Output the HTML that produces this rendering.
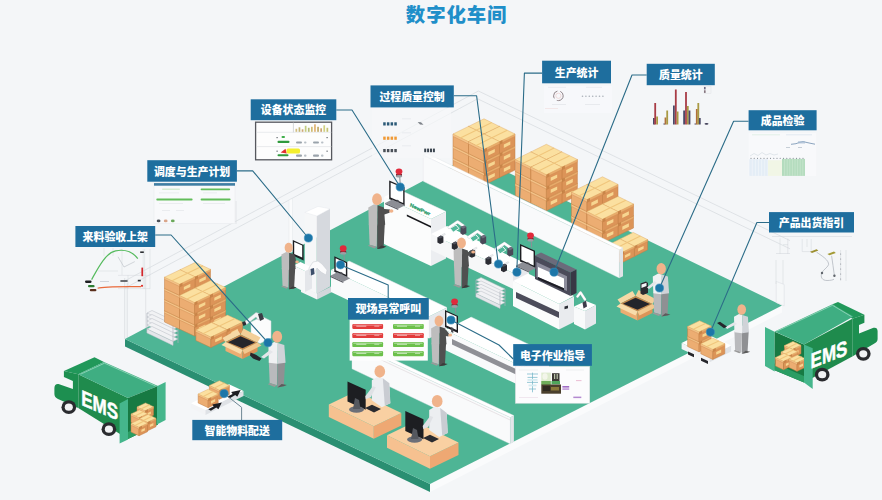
<!DOCTYPE html>
<html lang="zh-CN"><head><meta charset="utf-8"><title>数字化车间</title>
<style>
html,body{margin:0;padding:0;background:#f4f6f8;}
body{width:882px;height:500px;overflow:hidden;font-family:"Liberation Sans","Noto Sans CJK SC",sans-serif;}
svg{display:block}
svg text{font-family:"Liberation Sans","Noto Sans CJK SC",sans-serif;}
</style></head><body>
<svg width="882" height="500" viewBox="0 0 882 500">
<rect width="882" height="500" fill="#f4f6f8"/>
<polyline points="125.0,280.8 478.4,91.0 790.0,240.6" fill="none" stroke="#d6dade" stroke-width="0.7" />
<polyline points="125.0,288.1 477.6,98.8 790.0,248.8" fill="none" stroke="#d6dade" stroke-width="0.7" />
<polyline points="124.7,278.0 124.7,339.0" fill="none" stroke="#d6dade" stroke-width="0.7" />
<polyline points="127.2,283.0 127.2,338.0" fill="none" stroke="#d6dade" stroke-width="0.7" />
<polyline points="145.7,272.0 145.7,328.0" fill="none" stroke="#d6dade" stroke-width="0.6" />
<polyline points="236.0,201.0 236.0,224.0" fill="none" stroke="#d6dade" stroke-width="0.6" />
<polygon points="125.0,339.0 430.0,484.0 430.0,492.0 125.0,346.5" fill="#2a8f72" />
<polygon points="430.0,484.0 782.0,305.5 782.0,312.5 430.0,492.0" fill="#fafbfc" />
<polygon points="125.0,339.0 472.0,155.0 782.0,305.5 430.0,484.0" fill="#4eb595" />
<polygon points="776.2,281.4 784.2,284.5 784.2,306.0 776.2,302.5" fill="#f6f8f9" stroke="#dde1e5" stroke-width="0.6" />
<polygon points="468.5,150.4 484.0,158.0 484.0,170.0 468.5,162.4" fill="#ecad72" stroke="#c27f45" stroke-width="0.5" />
<polygon points="484.0,158.0 499.5,150.4 499.5,162.4 484.0,170.0" fill="#dc9458" stroke="#c27f45" stroke-width="0.5" />
<polygon points="468.5,150.4 484.0,158.0 484.0,160.4 468.5,152.8" fill="#f3c288" />
<polygon points="484.0,158.0 499.5,150.4 499.5,152.8 484.0,160.4" fill="#e8ab6b" />
<polyline points="468.5,152.8 484.0,160.4 499.5,152.8" fill="none" stroke="#cd8a50" stroke-width="0.45" />
<polygon points="468.5,150.4 484.0,142.8 499.5,150.4 484.0,158.0" fill="#fbe0a0" stroke="#e0a965" stroke-width="0.45" />
<polygon points="488.3,160.9 494.8,157.7 494.8,161.1 488.3,164.3" fill="#f7d590" />
<polyline points="476.2,154.2 491.8,146.6" fill="none" stroke="#f0c67c" stroke-width="1.1" />
<polygon points="484.0,158.0 487.0,156.5 487.0,159.7 484.0,161.2" fill="#c98549" />
<polygon points="468.5,138.4 484.0,146.0 484.0,158.0 468.5,150.4" fill="#ecad72" stroke="#c27f45" stroke-width="0.5" />
<polygon points="484.0,146.0 499.5,138.4 499.5,150.4 484.0,158.0" fill="#dc9458" stroke="#c27f45" stroke-width="0.5" />
<polygon points="468.5,138.4 484.0,146.0 484.0,148.4 468.5,140.8" fill="#f3c288" />
<polygon points="484.0,146.0 499.5,138.4 499.5,140.8 484.0,148.4" fill="#e8ab6b" />
<polyline points="468.5,140.8 484.0,148.4 499.5,140.8" fill="none" stroke="#cd8a50" stroke-width="0.45" />
<polygon points="468.5,138.4 484.0,130.8 499.5,138.4 484.0,146.0" fill="#fbe0a0" stroke="#e0a965" stroke-width="0.45" />
<polygon points="488.3,148.9 494.8,145.7 494.8,149.1 488.3,152.3" fill="#f7d590" />
<polyline points="476.2,142.2 491.8,134.6" fill="none" stroke="#f0c67c" stroke-width="1.1" />
<polygon points="484.0,146.0 487.0,144.5 487.0,147.7 484.0,149.2" fill="#c98549" />
<polygon points="468.5,126.4 484.0,134.0 484.0,146.0 468.5,138.4" fill="#ecad72" stroke="#c27f45" stroke-width="0.5" />
<polygon points="484.0,134.0 499.5,126.4 499.5,138.4 484.0,146.0" fill="#dc9458" stroke="#c27f45" stroke-width="0.5" />
<polygon points="468.5,126.4 484.0,134.0 484.0,136.4 468.5,128.8" fill="#f3c288" />
<polygon points="484.0,134.0 499.5,126.4 499.5,128.8 484.0,136.4" fill="#e8ab6b" />
<polyline points="468.5,128.8 484.0,136.4 499.5,128.8" fill="none" stroke="#cd8a50" stroke-width="0.45" />
<polygon points="468.5,126.4 484.0,118.8 499.5,126.4 484.0,134.0" fill="#fbe0a0" stroke="#e0a965" stroke-width="0.45" />
<polygon points="488.3,136.9 494.8,133.7 494.8,137.1 488.3,140.3" fill="#f7d590" />
<polyline points="476.2,130.2 491.8,122.6" fill="none" stroke="#f0c67c" stroke-width="1.1" />
<polygon points="484.0,134.0 487.0,132.5 487.0,135.7 484.0,137.2" fill="#c98549" />
<polygon points="453.0,158.0 468.5,165.6 468.5,177.6 453.0,170.0" fill="#ecad72" stroke="#c27f45" stroke-width="0.5" />
<polygon points="468.5,165.6 484.0,158.0 484.0,170.0 468.5,177.6" fill="#dc9458" stroke="#c27f45" stroke-width="0.5" />
<polygon points="453.0,158.0 468.5,165.6 468.5,168.0 453.0,160.4" fill="#f3c288" />
<polygon points="468.5,165.6 484.0,158.0 484.0,160.4 468.5,168.0" fill="#e8ab6b" />
<polyline points="453.0,160.4 468.5,168.0 484.0,160.4" fill="none" stroke="#cd8a50" stroke-width="0.45" />
<polygon points="453.0,158.0 468.5,150.4 484.0,158.0 468.5,165.6" fill="#fbe0a0" stroke="#e0a965" stroke-width="0.45" />
<polygon points="472.8,168.5 479.3,165.3 479.3,168.7 472.8,171.9" fill="#f7d590" />
<polyline points="460.8,161.8 476.2,154.2" fill="none" stroke="#f0c67c" stroke-width="1.1" />
<polygon points="468.5,165.6 471.5,164.1 471.5,167.3 468.5,168.8" fill="#c98549" />
<polygon points="453.0,146.0 468.5,153.6 468.5,165.6 453.0,158.0" fill="#ecad72" stroke="#c27f45" stroke-width="0.5" />
<polygon points="468.5,153.6 484.0,146.0 484.0,158.0 468.5,165.6" fill="#dc9458" stroke="#c27f45" stroke-width="0.5" />
<polygon points="453.0,146.0 468.5,153.6 468.5,156.0 453.0,148.4" fill="#f3c288" />
<polygon points="468.5,153.6 484.0,146.0 484.0,148.4 468.5,156.0" fill="#e8ab6b" />
<polyline points="453.0,148.4 468.5,156.0 484.0,148.4" fill="none" stroke="#cd8a50" stroke-width="0.45" />
<polygon points="453.0,146.0 468.5,138.4 484.0,146.0 468.5,153.6" fill="#fbe0a0" stroke="#e0a965" stroke-width="0.45" />
<polygon points="472.8,156.5 479.3,153.3 479.3,156.7 472.8,159.9" fill="#f7d590" />
<polyline points="460.8,149.8 476.2,142.2" fill="none" stroke="#f0c67c" stroke-width="1.1" />
<polygon points="468.5,153.6 471.5,152.1 471.5,155.3 468.5,156.8" fill="#c98549" />
<polygon points="453.0,134.0 468.5,141.6 468.5,153.6 453.0,146.0" fill="#ecad72" stroke="#c27f45" stroke-width="0.5" />
<polygon points="468.5,141.6 484.0,134.0 484.0,146.0 468.5,153.6" fill="#dc9458" stroke="#c27f45" stroke-width="0.5" />
<polygon points="453.0,134.0 468.5,141.6 468.5,144.0 453.0,136.4" fill="#f3c288" />
<polygon points="468.5,141.6 484.0,134.0 484.0,136.4 468.5,144.0" fill="#e8ab6b" />
<polyline points="453.0,136.4 468.5,144.0 484.0,136.4" fill="none" stroke="#cd8a50" stroke-width="0.45" />
<polygon points="453.0,134.0 468.5,126.4 484.0,134.0 468.5,141.6" fill="#fbe0a0" stroke="#e0a965" stroke-width="0.45" />
<polygon points="472.8,144.5 479.3,141.3 479.3,144.7 472.8,147.9" fill="#f7d590" />
<polyline points="460.8,137.8 476.2,130.2" fill="none" stroke="#f0c67c" stroke-width="1.1" />
<polygon points="468.5,141.6 471.5,140.1 471.5,143.3 468.5,144.8" fill="#c98549" />
<polygon points="484.0,158.0 499.5,165.6 499.5,177.6 484.0,170.0" fill="#ecad72" stroke="#c27f45" stroke-width="0.5" />
<polygon points="499.5,165.6 515.0,158.0 515.0,170.0 499.5,177.6" fill="#dc9458" stroke="#c27f45" stroke-width="0.5" />
<polygon points="484.0,158.0 499.5,165.6 499.5,168.0 484.0,160.4" fill="#f3c288" />
<polygon points="499.5,165.6 515.0,158.0 515.0,160.4 499.5,168.0" fill="#e8ab6b" />
<polyline points="484.0,160.4 499.5,168.0 515.0,160.4" fill="none" stroke="#cd8a50" stroke-width="0.45" />
<polygon points="484.0,158.0 499.5,150.4 515.0,158.0 499.5,165.6" fill="#fbe0a0" stroke="#e0a965" stroke-width="0.45" />
<polygon points="503.8,168.5 510.3,165.3 510.3,168.7 503.8,171.9" fill="#f7d590" />
<polyline points="491.8,161.8 507.2,154.2" fill="none" stroke="#f0c67c" stroke-width="1.1" />
<polygon points="499.5,165.6 502.5,164.1 502.5,167.3 499.5,168.8" fill="#c98549" />
<polygon points="484.0,146.0 499.5,153.6 499.5,165.6 484.0,158.0" fill="#ecad72" stroke="#c27f45" stroke-width="0.5" />
<polygon points="499.5,153.6 515.0,146.0 515.0,158.0 499.5,165.6" fill="#dc9458" stroke="#c27f45" stroke-width="0.5" />
<polygon points="484.0,146.0 499.5,153.6 499.5,156.0 484.0,148.4" fill="#f3c288" />
<polygon points="499.5,153.6 515.0,146.0 515.0,148.4 499.5,156.0" fill="#e8ab6b" />
<polyline points="484.0,148.4 499.5,156.0 515.0,148.4" fill="none" stroke="#cd8a50" stroke-width="0.45" />
<polygon points="484.0,146.0 499.5,138.4 515.0,146.0 499.5,153.6" fill="#fbe0a0" stroke="#e0a965" stroke-width="0.45" />
<polygon points="503.8,156.5 510.3,153.3 510.3,156.7 503.8,159.9" fill="#f7d590" />
<polyline points="491.8,149.8 507.2,142.2" fill="none" stroke="#f0c67c" stroke-width="1.1" />
<polygon points="499.5,153.6 502.5,152.1 502.5,155.3 499.5,156.8" fill="#c98549" />
<polygon points="484.0,134.0 499.5,141.6 499.5,153.6 484.0,146.0" fill="#ecad72" stroke="#c27f45" stroke-width="0.5" />
<polygon points="499.5,141.6 515.0,134.0 515.0,146.0 499.5,153.6" fill="#dc9458" stroke="#c27f45" stroke-width="0.5" />
<polygon points="484.0,134.0 499.5,141.6 499.5,144.0 484.0,136.4" fill="#f3c288" />
<polygon points="499.5,141.6 515.0,134.0 515.0,136.4 499.5,144.0" fill="#e8ab6b" />
<polyline points="484.0,136.4 499.5,144.0 515.0,136.4" fill="none" stroke="#cd8a50" stroke-width="0.45" />
<polygon points="484.0,134.0 499.5,126.4 515.0,134.0 499.5,141.6" fill="#fbe0a0" stroke="#e0a965" stroke-width="0.45" />
<polygon points="503.8,144.5 510.3,141.3 510.3,144.7 503.8,147.9" fill="#f7d590" />
<polyline points="491.8,137.8 507.2,130.2" fill="none" stroke="#f0c67c" stroke-width="1.1" />
<polygon points="499.5,141.6 502.5,140.1 502.5,143.3 499.5,144.8" fill="#c98549" />
<polygon points="468.5,165.6 484.0,173.2 484.0,185.2 468.5,177.6" fill="#ecad72" stroke="#c27f45" stroke-width="0.5" />
<polygon points="484.0,173.2 499.5,165.6 499.5,177.6 484.0,185.2" fill="#dc9458" stroke="#c27f45" stroke-width="0.5" />
<polygon points="468.5,165.6 484.0,173.2 484.0,175.6 468.5,168.0" fill="#f3c288" />
<polygon points="484.0,173.2 499.5,165.6 499.5,168.0 484.0,175.6" fill="#e8ab6b" />
<polyline points="468.5,168.0 484.0,175.6 499.5,168.0" fill="none" stroke="#cd8a50" stroke-width="0.45" />
<polygon points="468.5,165.6 484.0,158.0 499.5,165.6 484.0,173.2" fill="#fbe0a0" stroke="#e0a965" stroke-width="0.45" />
<polygon points="488.3,176.1 494.8,172.9 494.8,176.3 488.3,179.5" fill="#f7d590" />
<polyline points="476.2,169.4 491.8,161.8" fill="none" stroke="#f0c67c" stroke-width="1.1" />
<polygon points="484.0,173.2 487.0,171.7 487.0,174.9 484.0,176.4" fill="#c98549" />
<polygon points="468.5,153.6 484.0,161.2 484.0,173.2 468.5,165.6" fill="#ecad72" stroke="#c27f45" stroke-width="0.5" />
<polygon points="484.0,161.2 499.5,153.6 499.5,165.6 484.0,173.2" fill="#dc9458" stroke="#c27f45" stroke-width="0.5" />
<polygon points="468.5,153.6 484.0,161.2 484.0,163.6 468.5,156.0" fill="#f3c288" />
<polygon points="484.0,161.2 499.5,153.6 499.5,156.0 484.0,163.6" fill="#e8ab6b" />
<polyline points="468.5,156.0 484.0,163.6 499.5,156.0" fill="none" stroke="#cd8a50" stroke-width="0.45" />
<polygon points="468.5,153.6 484.0,146.0 499.5,153.6 484.0,161.2" fill="#fbe0a0" stroke="#e0a965" stroke-width="0.45" />
<polygon points="488.3,164.1 494.8,160.9 494.8,164.3 488.3,167.5" fill="#f7d590" />
<polyline points="476.2,157.4 491.8,149.8" fill="none" stroke="#f0c67c" stroke-width="1.1" />
<polygon points="484.0,161.2 487.0,159.7 487.0,162.9 484.0,164.4" fill="#c98549" />
<polygon points="468.5,141.6 484.0,149.2 484.0,161.2 468.5,153.6" fill="#ecad72" stroke="#c27f45" stroke-width="0.5" />
<polygon points="484.0,149.2 499.5,141.6 499.5,153.6 484.0,161.2" fill="#dc9458" stroke="#c27f45" stroke-width="0.5" />
<polygon points="468.5,141.6 484.0,149.2 484.0,151.6 468.5,144.0" fill="#f3c288" />
<polygon points="484.0,149.2 499.5,141.6 499.5,144.0 484.0,151.6" fill="#e8ab6b" />
<polyline points="468.5,144.0 484.0,151.6 499.5,144.0" fill="none" stroke="#cd8a50" stroke-width="0.45" />
<polygon points="468.5,141.6 484.0,134.0 499.5,141.6 484.0,149.2" fill="#fbe0a0" stroke="#e0a965" stroke-width="0.45" />
<polygon points="488.3,152.1 494.8,148.9 494.8,152.3 488.3,155.5" fill="#f7d590" />
<polyline points="476.2,145.4 491.8,137.8" fill="none" stroke="#f0c67c" stroke-width="1.1" />
<polygon points="484.0,149.2 487.0,147.7 487.0,150.9 484.0,152.4" fill="#c98549" />
<polygon points="530.9,175.9 546.4,183.5 546.4,195.5 530.9,187.9" fill="#ecad72" stroke="#c27f45" stroke-width="0.5" />
<polygon points="546.4,183.5 561.9,175.9 561.9,187.9 546.4,195.5" fill="#dc9458" stroke="#c27f45" stroke-width="0.5" />
<polygon points="530.9,175.9 546.4,183.5 546.4,185.9 530.9,178.3" fill="#f3c288" />
<polygon points="546.4,183.5 561.9,175.9 561.9,178.3 546.4,185.9" fill="#e8ab6b" />
<polyline points="530.9,178.3 546.4,185.9 561.9,178.3" fill="none" stroke="#cd8a50" stroke-width="0.45" />
<polygon points="530.9,175.9 546.4,168.3 561.9,175.9 546.4,183.5" fill="#fbe0a0" stroke="#e0a965" stroke-width="0.45" />
<polygon points="550.7,186.4 557.2,183.2 557.2,186.6 550.7,189.8" fill="#f7d590" />
<polyline points="538.6,179.7 554.1,172.1" fill="none" stroke="#f0c67c" stroke-width="1.1" />
<polygon points="546.4,183.5 549.4,182.0 549.4,185.2 546.4,186.7" fill="#c98549" />
<polygon points="530.9,163.9 546.4,171.5 546.4,183.5 530.9,175.9" fill="#ecad72" stroke="#c27f45" stroke-width="0.5" />
<polygon points="546.4,171.5 561.9,163.9 561.9,175.9 546.4,183.5" fill="#dc9458" stroke="#c27f45" stroke-width="0.5" />
<polygon points="530.9,163.9 546.4,171.5 546.4,173.9 530.9,166.3" fill="#f3c288" />
<polygon points="546.4,171.5 561.9,163.9 561.9,166.3 546.4,173.9" fill="#e8ab6b" />
<polyline points="530.9,166.3 546.4,173.9 561.9,166.3" fill="none" stroke="#cd8a50" stroke-width="0.45" />
<polygon points="530.9,163.9 546.4,156.3 561.9,163.9 546.4,171.5" fill="#fbe0a0" stroke="#e0a965" stroke-width="0.45" />
<polygon points="550.7,174.4 557.2,171.2 557.2,174.6 550.7,177.8" fill="#f7d590" />
<polyline points="538.6,167.7 554.1,160.1" fill="none" stroke="#f0c67c" stroke-width="1.1" />
<polygon points="546.4,171.5 549.4,170.0 549.4,173.2 546.4,174.7" fill="#c98549" />
<polygon points="530.9,151.9 546.4,159.5 546.4,171.5 530.9,163.9" fill="#ecad72" stroke="#c27f45" stroke-width="0.5" />
<polygon points="546.4,159.5 561.9,151.9 561.9,163.9 546.4,171.5" fill="#dc9458" stroke="#c27f45" stroke-width="0.5" />
<polygon points="530.9,151.9 546.4,159.5 546.4,161.9 530.9,154.3" fill="#f3c288" />
<polygon points="546.4,159.5 561.9,151.9 561.9,154.3 546.4,161.9" fill="#e8ab6b" />
<polyline points="530.9,154.3 546.4,161.9 561.9,154.3" fill="none" stroke="#cd8a50" stroke-width="0.45" />
<polygon points="530.9,151.9 546.4,144.3 561.9,151.9 546.4,159.5" fill="#fbe0a0" stroke="#e0a965" stroke-width="0.45" />
<polygon points="550.7,162.4 557.2,159.2 557.2,162.6 550.7,165.8" fill="#f7d590" />
<polyline points="538.6,155.7 554.1,148.1" fill="none" stroke="#f0c67c" stroke-width="1.1" />
<polygon points="546.4,159.5 549.4,158.0 549.4,161.2 546.4,162.7" fill="#c98549" />
<polygon points="515.4,183.5 530.9,191.1 530.9,203.1 515.4,195.5" fill="#ecad72" stroke="#c27f45" stroke-width="0.5" />
<polygon points="530.9,191.1 546.4,183.5 546.4,195.5 530.9,203.1" fill="#dc9458" stroke="#c27f45" stroke-width="0.5" />
<polygon points="515.4,183.5 530.9,191.1 530.9,193.5 515.4,185.9" fill="#f3c288" />
<polygon points="530.9,191.1 546.4,183.5 546.4,185.9 530.9,193.5" fill="#e8ab6b" />
<polyline points="515.4,185.9 530.9,193.5 546.4,185.9" fill="none" stroke="#cd8a50" stroke-width="0.45" />
<polygon points="515.4,183.5 530.9,175.9 546.4,183.5 530.9,191.1" fill="#fbe0a0" stroke="#e0a965" stroke-width="0.45" />
<polygon points="535.2,194.0 541.8,190.8 541.8,194.2 535.2,197.4" fill="#f7d590" />
<polyline points="523.1,187.3 538.6,179.7" fill="none" stroke="#f0c67c" stroke-width="1.1" />
<polygon points="530.9,191.1 533.9,189.6 533.9,192.8 530.9,194.3" fill="#c98549" />
<polygon points="515.4,171.5 530.9,179.1 530.9,191.1 515.4,183.5" fill="#ecad72" stroke="#c27f45" stroke-width="0.5" />
<polygon points="530.9,179.1 546.4,171.5 546.4,183.5 530.9,191.1" fill="#dc9458" stroke="#c27f45" stroke-width="0.5" />
<polygon points="515.4,171.5 530.9,179.1 530.9,181.5 515.4,173.9" fill="#f3c288" />
<polygon points="530.9,179.1 546.4,171.5 546.4,173.9 530.9,181.5" fill="#e8ab6b" />
<polyline points="515.4,173.9 530.9,181.5 546.4,173.9" fill="none" stroke="#cd8a50" stroke-width="0.45" />
<polygon points="515.4,171.5 530.9,163.9 546.4,171.5 530.9,179.1" fill="#fbe0a0" stroke="#e0a965" stroke-width="0.45" />
<polygon points="535.2,182.0 541.8,178.8 541.8,182.2 535.2,185.4" fill="#f7d590" />
<polyline points="523.1,175.3 538.6,167.7" fill="none" stroke="#f0c67c" stroke-width="1.1" />
<polygon points="530.9,179.1 533.9,177.6 533.9,180.8 530.9,182.3" fill="#c98549" />
<polygon points="515.4,159.5 530.9,167.1 530.9,179.1 515.4,171.5" fill="#ecad72" stroke="#c27f45" stroke-width="0.5" />
<polygon points="530.9,167.1 546.4,159.5 546.4,171.5 530.9,179.1" fill="#dc9458" stroke="#c27f45" stroke-width="0.5" />
<polygon points="515.4,159.5 530.9,167.1 530.9,169.5 515.4,161.9" fill="#f3c288" />
<polygon points="530.9,167.1 546.4,159.5 546.4,161.9 530.9,169.5" fill="#e8ab6b" />
<polyline points="515.4,161.9 530.9,169.5 546.4,161.9" fill="none" stroke="#cd8a50" stroke-width="0.45" />
<polygon points="515.4,159.5 530.9,151.9 546.4,159.5 530.9,167.1" fill="#fbe0a0" stroke="#e0a965" stroke-width="0.45" />
<polygon points="535.2,170.0 541.8,166.8 541.8,170.2 535.2,173.4" fill="#f7d590" />
<polyline points="523.1,163.3 538.6,155.7" fill="none" stroke="#f0c67c" stroke-width="1.1" />
<polygon points="530.9,167.1 533.9,165.6 533.9,168.8 530.9,170.3" fill="#c98549" />
<polygon points="546.4,183.5 561.9,191.1 561.9,203.1 546.4,195.5" fill="#ecad72" stroke="#c27f45" stroke-width="0.5" />
<polygon points="561.9,191.1 577.4,183.5 577.4,195.5 561.9,203.1" fill="#dc9458" stroke="#c27f45" stroke-width="0.5" />
<polygon points="546.4,183.5 561.9,191.1 561.9,193.5 546.4,185.9" fill="#f3c288" />
<polygon points="561.9,191.1 577.4,183.5 577.4,185.9 561.9,193.5" fill="#e8ab6b" />
<polyline points="546.4,185.9 561.9,193.5 577.4,185.9" fill="none" stroke="#cd8a50" stroke-width="0.45" />
<polygon points="546.4,183.5 561.9,175.9 577.4,183.5 561.9,191.1" fill="#fbe0a0" stroke="#e0a965" stroke-width="0.45" />
<polygon points="566.2,194.0 572.8,190.8 572.8,194.2 566.2,197.4" fill="#f7d590" />
<polyline points="554.1,187.3 569.6,179.7" fill="none" stroke="#f0c67c" stroke-width="1.1" />
<polygon points="561.9,191.1 564.9,189.6 564.9,192.8 561.9,194.3" fill="#c98549" />
<polygon points="546.4,171.5 561.9,179.1 561.9,191.1 546.4,183.5" fill="#ecad72" stroke="#c27f45" stroke-width="0.5" />
<polygon points="561.9,179.1 577.4,171.5 577.4,183.5 561.9,191.1" fill="#dc9458" stroke="#c27f45" stroke-width="0.5" />
<polygon points="546.4,171.5 561.9,179.1 561.9,181.5 546.4,173.9" fill="#f3c288" />
<polygon points="561.9,179.1 577.4,171.5 577.4,173.9 561.9,181.5" fill="#e8ab6b" />
<polyline points="546.4,173.9 561.9,181.5 577.4,173.9" fill="none" stroke="#cd8a50" stroke-width="0.45" />
<polygon points="546.4,171.5 561.9,163.9 577.4,171.5 561.9,179.1" fill="#fbe0a0" stroke="#e0a965" stroke-width="0.45" />
<polygon points="566.2,182.0 572.8,178.8 572.8,182.2 566.2,185.4" fill="#f7d590" />
<polyline points="554.1,175.3 569.6,167.7" fill="none" stroke="#f0c67c" stroke-width="1.1" />
<polygon points="561.9,179.1 564.9,177.6 564.9,180.8 561.9,182.3" fill="#c98549" />
<polygon points="546.4,159.5 561.9,167.1 561.9,179.1 546.4,171.5" fill="#ecad72" stroke="#c27f45" stroke-width="0.5" />
<polygon points="561.9,167.1 577.4,159.5 577.4,171.5 561.9,179.1" fill="#dc9458" stroke="#c27f45" stroke-width="0.5" />
<polygon points="546.4,159.5 561.9,167.1 561.9,169.5 546.4,161.9" fill="#f3c288" />
<polygon points="561.9,167.1 577.4,159.5 577.4,161.9 561.9,169.5" fill="#e8ab6b" />
<polyline points="546.4,161.9 561.9,169.5 577.4,161.9" fill="none" stroke="#cd8a50" stroke-width="0.45" />
<polygon points="546.4,159.5 561.9,151.9 577.4,159.5 561.9,167.1" fill="#fbe0a0" stroke="#e0a965" stroke-width="0.45" />
<polygon points="566.2,170.0 572.8,166.8 572.8,170.2 566.2,173.4" fill="#f7d590" />
<polyline points="554.1,163.3 569.6,155.7" fill="none" stroke="#f0c67c" stroke-width="1.1" />
<polygon points="561.9,167.1 564.9,165.6 564.9,168.8 561.9,170.3" fill="#c98549" />
<polygon points="530.9,191.1 546.4,198.7 546.4,210.7 530.9,203.1" fill="#ecad72" stroke="#c27f45" stroke-width="0.5" />
<polygon points="546.4,198.7 561.9,191.1 561.9,203.1 546.4,210.7" fill="#dc9458" stroke="#c27f45" stroke-width="0.5" />
<polygon points="530.9,191.1 546.4,198.7 546.4,201.1 530.9,193.5" fill="#f3c288" />
<polygon points="546.4,198.7 561.9,191.1 561.9,193.5 546.4,201.1" fill="#e8ab6b" />
<polyline points="530.9,193.5 546.4,201.1 561.9,193.5" fill="none" stroke="#cd8a50" stroke-width="0.45" />
<polygon points="530.9,191.1 546.4,183.5 561.9,191.1 546.4,198.7" fill="#fbe0a0" stroke="#e0a965" stroke-width="0.45" />
<polygon points="550.7,201.6 557.2,198.4 557.2,201.8 550.7,205.0" fill="#f7d590" />
<polyline points="538.6,194.9 554.1,187.3" fill="none" stroke="#f0c67c" stroke-width="1.1" />
<polygon points="546.4,198.7 549.4,197.2 549.4,200.4 546.4,201.9" fill="#c98549" />
<polygon points="530.9,179.1 546.4,186.7 546.4,198.7 530.9,191.1" fill="#ecad72" stroke="#c27f45" stroke-width="0.5" />
<polygon points="546.4,186.7 561.9,179.1 561.9,191.1 546.4,198.7" fill="#dc9458" stroke="#c27f45" stroke-width="0.5" />
<polygon points="530.9,179.1 546.4,186.7 546.4,189.1 530.9,181.5" fill="#f3c288" />
<polygon points="546.4,186.7 561.9,179.1 561.9,181.5 546.4,189.1" fill="#e8ab6b" />
<polyline points="530.9,181.5 546.4,189.1 561.9,181.5" fill="none" stroke="#cd8a50" stroke-width="0.45" />
<polygon points="530.9,179.1 546.4,171.5 561.9,179.1 546.4,186.7" fill="#fbe0a0" stroke="#e0a965" stroke-width="0.45" />
<polygon points="550.7,189.6 557.2,186.4 557.2,189.8 550.7,193.0" fill="#f7d590" />
<polyline points="538.6,182.9 554.1,175.3" fill="none" stroke="#f0c67c" stroke-width="1.1" />
<polygon points="546.4,186.7 549.4,185.2 549.4,188.4 546.4,189.9" fill="#c98549" />
<polygon points="530.9,167.1 546.4,174.7 546.4,186.7 530.9,179.1" fill="#ecad72" stroke="#c27f45" stroke-width="0.5" />
<polygon points="546.4,174.7 561.9,167.1 561.9,179.1 546.4,186.7" fill="#dc9458" stroke="#c27f45" stroke-width="0.5" />
<polygon points="530.9,167.1 546.4,174.7 546.4,177.1 530.9,169.5" fill="#f3c288" />
<polygon points="546.4,174.7 561.9,167.1 561.9,169.5 546.4,177.1" fill="#e8ab6b" />
<polyline points="530.9,169.5 546.4,177.1 561.9,169.5" fill="none" stroke="#cd8a50" stroke-width="0.45" />
<polygon points="530.9,167.1 546.4,159.5 561.9,167.1 546.4,174.7" fill="#fbe0a0" stroke="#e0a965" stroke-width="0.45" />
<polygon points="550.7,177.6 557.2,174.4 557.2,177.8 550.7,181.0" fill="#f7d590" />
<polyline points="538.6,170.9 554.1,163.3" fill="none" stroke="#f0c67c" stroke-width="1.1" />
<polygon points="546.4,174.7 549.4,173.2 549.4,176.4 546.4,177.9" fill="#c98549" />
<polygon points="587.0,208.4 602.5,216.0 602.5,228.0 587.0,220.4" fill="#ecad72" stroke="#c27f45" stroke-width="0.5" />
<polygon points="602.5,216.0 618.0,208.4 618.0,220.4 602.5,228.0" fill="#dc9458" stroke="#c27f45" stroke-width="0.5" />
<polygon points="587.0,208.4 602.5,216.0 602.5,218.4 587.0,210.8" fill="#f3c288" />
<polygon points="602.5,216.0 618.0,208.4 618.0,210.8 602.5,218.4" fill="#e8ab6b" />
<polyline points="587.0,210.8 602.5,218.4 618.0,210.8" fill="none" stroke="#cd8a50" stroke-width="0.45" />
<polygon points="587.0,208.4 602.5,200.8 618.0,208.4 602.5,216.0" fill="#fbe0a0" stroke="#e0a965" stroke-width="0.45" />
<polygon points="606.8,218.9 613.4,215.7 613.4,219.1 606.8,222.3" fill="#f7d590" />
<polyline points="594.8,212.2 610.2,204.6" fill="none" stroke="#f0c67c" stroke-width="1.1" />
<polygon points="602.5,216.0 605.5,214.5 605.5,217.7 602.5,219.2" fill="#c98549" />
<polygon points="587.0,196.4 602.5,204.0 602.5,216.0 587.0,208.4" fill="#ecad72" stroke="#c27f45" stroke-width="0.5" />
<polygon points="602.5,204.0 618.0,196.4 618.0,208.4 602.5,216.0" fill="#dc9458" stroke="#c27f45" stroke-width="0.5" />
<polygon points="587.0,196.4 602.5,204.0 602.5,206.4 587.0,198.8" fill="#f3c288" />
<polygon points="602.5,204.0 618.0,196.4 618.0,198.8 602.5,206.4" fill="#e8ab6b" />
<polyline points="587.0,198.8 602.5,206.4 618.0,198.8" fill="none" stroke="#cd8a50" stroke-width="0.45" />
<polygon points="587.0,196.4 602.5,188.8 618.0,196.4 602.5,204.0" fill="#fbe0a0" stroke="#e0a965" stroke-width="0.45" />
<polygon points="606.8,206.9 613.4,203.7 613.4,207.1 606.8,210.3" fill="#f7d590" />
<polyline points="594.8,200.2 610.2,192.6" fill="none" stroke="#f0c67c" stroke-width="1.1" />
<polygon points="602.5,204.0 605.5,202.5 605.5,205.7 602.5,207.2" fill="#c98549" />
<polygon points="587.0,184.4 602.5,192.0 602.5,204.0 587.0,196.4" fill="#ecad72" stroke="#c27f45" stroke-width="0.5" />
<polygon points="602.5,192.0 618.0,184.4 618.0,196.4 602.5,204.0" fill="#dc9458" stroke="#c27f45" stroke-width="0.5" />
<polygon points="587.0,184.4 602.5,192.0 602.5,194.4 587.0,186.8" fill="#f3c288" />
<polygon points="602.5,192.0 618.0,184.4 618.0,186.8 602.5,194.4" fill="#e8ab6b" />
<polyline points="587.0,186.8 602.5,194.4 618.0,186.8" fill="none" stroke="#cd8a50" stroke-width="0.45" />
<polygon points="587.0,184.4 602.5,176.8 618.0,184.4 602.5,192.0" fill="#fbe0a0" stroke="#e0a965" stroke-width="0.45" />
<polygon points="606.8,194.9 613.4,191.7 613.4,195.1 606.8,198.3" fill="#f7d590" />
<polyline points="594.8,188.2 610.2,180.6" fill="none" stroke="#f0c67c" stroke-width="1.1" />
<polygon points="602.5,192.0 605.5,190.5 605.5,193.7 602.5,195.2" fill="#c98549" />
<polygon points="571.5,216.0 587.0,223.6 587.0,235.6 571.5,228.0" fill="#ecad72" stroke="#c27f45" stroke-width="0.5" />
<polygon points="587.0,223.6 602.5,216.0 602.5,228.0 587.0,235.6" fill="#dc9458" stroke="#c27f45" stroke-width="0.5" />
<polygon points="571.5,216.0 587.0,223.6 587.0,226.0 571.5,218.4" fill="#f3c288" />
<polygon points="587.0,223.6 602.5,216.0 602.5,218.4 587.0,226.0" fill="#e8ab6b" />
<polyline points="571.5,218.4 587.0,226.0 602.5,218.4" fill="none" stroke="#cd8a50" stroke-width="0.45" />
<polygon points="571.5,216.0 587.0,208.4 602.5,216.0 587.0,223.6" fill="#fbe0a0" stroke="#e0a965" stroke-width="0.45" />
<polygon points="591.3,226.5 597.9,223.3 597.9,226.7 591.3,229.9" fill="#f7d590" />
<polyline points="579.2,219.8 594.8,212.2" fill="none" stroke="#f0c67c" stroke-width="1.1" />
<polygon points="587.0,223.6 590.0,222.1 590.0,225.3 587.0,226.8" fill="#c98549" />
<polygon points="571.5,204.0 587.0,211.6 587.0,223.6 571.5,216.0" fill="#ecad72" stroke="#c27f45" stroke-width="0.5" />
<polygon points="587.0,211.6 602.5,204.0 602.5,216.0 587.0,223.6" fill="#dc9458" stroke="#c27f45" stroke-width="0.5" />
<polygon points="571.5,204.0 587.0,211.6 587.0,214.0 571.5,206.4" fill="#f3c288" />
<polygon points="587.0,211.6 602.5,204.0 602.5,206.4 587.0,214.0" fill="#e8ab6b" />
<polyline points="571.5,206.4 587.0,214.0 602.5,206.4" fill="none" stroke="#cd8a50" stroke-width="0.45" />
<polygon points="571.5,204.0 587.0,196.4 602.5,204.0 587.0,211.6" fill="#fbe0a0" stroke="#e0a965" stroke-width="0.45" />
<polygon points="591.3,214.5 597.9,211.3 597.9,214.7 591.3,217.9" fill="#f7d590" />
<polyline points="579.2,207.8 594.8,200.2" fill="none" stroke="#f0c67c" stroke-width="1.1" />
<polygon points="587.0,211.6 590.0,210.1 590.0,213.3 587.0,214.8" fill="#c98549" />
<polygon points="571.5,192.0 587.0,199.6 587.0,211.6 571.5,204.0" fill="#ecad72" stroke="#c27f45" stroke-width="0.5" />
<polygon points="587.0,199.6 602.5,192.0 602.5,204.0 587.0,211.6" fill="#dc9458" stroke="#c27f45" stroke-width="0.5" />
<polygon points="571.5,192.0 587.0,199.6 587.0,202.0 571.5,194.4" fill="#f3c288" />
<polygon points="587.0,199.6 602.5,192.0 602.5,194.4 587.0,202.0" fill="#e8ab6b" />
<polyline points="571.5,194.4 587.0,202.0 602.5,194.4" fill="none" stroke="#cd8a50" stroke-width="0.45" />
<polygon points="571.5,192.0 587.0,184.4 602.5,192.0 587.0,199.6" fill="#fbe0a0" stroke="#e0a965" stroke-width="0.45" />
<polygon points="591.3,202.5 597.9,199.3 597.9,202.7 591.3,205.9" fill="#f7d590" />
<polyline points="579.2,195.8 594.8,188.2" fill="none" stroke="#f0c67c" stroke-width="1.1" />
<polygon points="587.0,199.6 590.0,198.1 590.0,201.3 587.0,202.8" fill="#c98549" />
<polygon points="602.5,216.0 618.0,223.6 618.0,235.6 602.5,228.0" fill="#ecad72" stroke="#c27f45" stroke-width="0.5" />
<polygon points="618.0,223.6 633.5,216.0 633.5,228.0 618.0,235.6" fill="#dc9458" stroke="#c27f45" stroke-width="0.5" />
<polygon points="602.5,216.0 618.0,223.6 618.0,226.0 602.5,218.4" fill="#f3c288" />
<polygon points="618.0,223.6 633.5,216.0 633.5,218.4 618.0,226.0" fill="#e8ab6b" />
<polyline points="602.5,218.4 618.0,226.0 633.5,218.4" fill="none" stroke="#cd8a50" stroke-width="0.45" />
<polygon points="602.5,216.0 618.0,208.4 633.5,216.0 618.0,223.6" fill="#fbe0a0" stroke="#e0a965" stroke-width="0.45" />
<polygon points="622.3,226.5 628.9,223.3 628.9,226.7 622.3,229.9" fill="#f7d590" />
<polyline points="610.2,219.8 625.8,212.2" fill="none" stroke="#f0c67c" stroke-width="1.1" />
<polygon points="618.0,223.6 621.0,222.1 621.0,225.3 618.0,226.8" fill="#c98549" />
<polygon points="602.5,204.0 618.0,211.6 618.0,223.6 602.5,216.0" fill="#ecad72" stroke="#c27f45" stroke-width="0.5" />
<polygon points="618.0,211.6 633.5,204.0 633.5,216.0 618.0,223.6" fill="#dc9458" stroke="#c27f45" stroke-width="0.5" />
<polygon points="602.5,204.0 618.0,211.6 618.0,214.0 602.5,206.4" fill="#f3c288" />
<polygon points="618.0,211.6 633.5,204.0 633.5,206.4 618.0,214.0" fill="#e8ab6b" />
<polyline points="602.5,206.4 618.0,214.0 633.5,206.4" fill="none" stroke="#cd8a50" stroke-width="0.45" />
<polygon points="602.5,204.0 618.0,196.4 633.5,204.0 618.0,211.6" fill="#fbe0a0" stroke="#e0a965" stroke-width="0.45" />
<polygon points="622.3,214.5 628.9,211.3 628.9,214.7 622.3,217.9" fill="#f7d590" />
<polyline points="610.2,207.8 625.8,200.2" fill="none" stroke="#f0c67c" stroke-width="1.1" />
<polygon points="618.0,211.6 621.0,210.1 621.0,213.3 618.0,214.8" fill="#c98549" />
<polygon points="587.0,223.6 602.5,231.2 602.5,243.2 587.0,235.6" fill="#ecad72" stroke="#c27f45" stroke-width="0.5" />
<polygon points="602.5,231.2 618.0,223.6 618.0,235.6 602.5,243.2" fill="#dc9458" stroke="#c27f45" stroke-width="0.5" />
<polygon points="587.0,223.6 602.5,231.2 602.5,233.6 587.0,226.0" fill="#f3c288" />
<polygon points="602.5,231.2 618.0,223.6 618.0,226.0 602.5,233.6" fill="#e8ab6b" />
<polyline points="587.0,226.0 602.5,233.6 618.0,226.0" fill="none" stroke="#cd8a50" stroke-width="0.45" />
<polygon points="587.0,223.6 602.5,216.0 618.0,223.6 602.5,231.2" fill="#fbe0a0" stroke="#e0a965" stroke-width="0.45" />
<polygon points="606.8,234.1 613.4,230.9 613.4,234.3 606.8,237.5" fill="#f7d590" />
<polyline points="594.8,227.4 610.2,219.8" fill="none" stroke="#f0c67c" stroke-width="1.1" />
<polygon points="602.5,231.2 605.5,229.7 605.5,232.9 602.5,234.4" fill="#c98549" />
<polygon points="587.0,211.6 602.5,219.2 602.5,231.2 587.0,223.6" fill="#ecad72" stroke="#c27f45" stroke-width="0.5" />
<polygon points="602.5,219.2 618.0,211.6 618.0,223.6 602.5,231.2" fill="#dc9458" stroke="#c27f45" stroke-width="0.5" />
<polygon points="587.0,211.6 602.5,219.2 602.5,221.6 587.0,214.0" fill="#f3c288" />
<polygon points="602.5,219.2 618.0,211.6 618.0,214.0 602.5,221.6" fill="#e8ab6b" />
<polyline points="587.0,214.0 602.5,221.6 618.0,214.0" fill="none" stroke="#cd8a50" stroke-width="0.45" />
<polygon points="587.0,211.6 602.5,204.0 618.0,211.6 602.5,219.2" fill="#fbe0a0" stroke="#e0a965" stroke-width="0.45" />
<polygon points="606.8,222.1 613.4,218.9 613.4,222.3 606.8,225.5" fill="#f7d590" />
<polyline points="594.8,215.4 610.2,207.8" fill="none" stroke="#f0c67c" stroke-width="1.1" />
<polygon points="602.5,219.2 605.5,217.7 605.5,220.9 602.5,222.4" fill="#c98549" />
<polygon points="620.0,239.0 634.4,246.2 634.4,256.4 620.0,249.2" fill="#ecad72" stroke="#c27f45" stroke-width="0.5" />
<polygon points="634.4,246.2 647.6,239.6 647.6,249.8 634.4,256.4" fill="#dc9458" stroke="#c27f45" stroke-width="0.5" />
<polygon points="620.0,239.0 634.4,246.2 634.4,248.2 620.0,241.0" fill="#f3c288" />
<polygon points="634.4,246.2 647.6,239.6 647.6,241.6 634.4,248.2" fill="#e8ab6b" />
<polyline points="620.0,241.0 634.4,248.2 647.6,241.6" fill="none" stroke="#cd8a50" stroke-width="0.45" />
<polygon points="620.0,239.0 633.2,232.4 647.6,239.6 634.4,246.2" fill="#fbe0a0" stroke="#e0a965" stroke-width="0.45" />
<polygon points="638.1,248.6 643.6,245.9 643.6,248.7 638.1,251.5" fill="#f7d590" />
<polyline points="627.2,242.6 640.4,236.0" fill="none" stroke="#f0c67c" stroke-width="1.1" />
<polygon points="634.4,246.2 637.4,244.7 637.4,247.5 634.4,249.0" fill="#c98549" />
<polygon points="606.8,245.6 621.2,252.8 621.2,263.0 606.8,255.8" fill="#ecad72" stroke="#c27f45" stroke-width="0.5" />
<polygon points="621.2,252.8 634.4,246.2 634.4,256.4 621.2,263.0" fill="#dc9458" stroke="#c27f45" stroke-width="0.5" />
<polygon points="606.8,245.6 621.2,252.8 621.2,254.8 606.8,247.6" fill="#f3c288" />
<polygon points="621.2,252.8 634.4,246.2 634.4,248.2 621.2,254.8" fill="#e8ab6b" />
<polyline points="606.8,247.6 621.2,254.8 634.4,248.2" fill="none" stroke="#cd8a50" stroke-width="0.45" />
<polygon points="606.8,245.6 620.0,239.0 634.4,246.2 621.2,252.8" fill="#fbe0a0" stroke="#e0a965" stroke-width="0.45" />
<polygon points="624.9,255.2 630.4,252.5 630.4,255.3 624.9,258.1" fill="#f7d590" />
<polyline points="614.0,249.2 627.2,242.6" fill="none" stroke="#f0c67c" stroke-width="1.1" />
<polygon points="621.2,252.8 624.2,251.3 624.2,254.1 621.2,255.6" fill="#c98549" />
<polygon points="423.3,155.2 427.0,153.4 623.0,248.0 619.4,249.8" fill="#ffffff" stroke="#dfe2e6" stroke-width="0.4" />
<polygon points="423.3,155.2 619.4,249.8 619.4,278.0 423.3,181.3" fill="#f9fafb" stroke="#e3e6ea" stroke-width="0.4" />
<polygon points="619.4,249.8 623.0,248.0 623.0,276.2 619.4,278.0" fill="#e0e3e7" />
<polygon points="147.0,313.0 152.0,310.5 178.0,322.9 173.0,325.4" fill="#f1f2f4" stroke="#b9bdc4" stroke-width="0.5" />
<polygon points="147.0,317.0 152.0,314.5 178.0,326.9 173.0,329.4" fill="#f1f2f4" stroke="#b9bdc4" stroke-width="0.5" />
<polygon points="147.0,321.0 152.0,318.5 178.0,330.9 173.0,333.4" fill="#f1f2f4" stroke="#b9bdc4" stroke-width="0.5" />
<polygon points="147.0,325.0 152.0,322.5 178.0,334.9 173.0,337.4" fill="#f1f2f4" stroke="#b9bdc4" stroke-width="0.5" />
<polygon points="147.0,329.0 152.0,326.5 178.0,338.9 173.0,341.4" fill="#f1f2f4" stroke="#b9bdc4" stroke-width="0.5" />
<polyline points="147.0,313.0 147.0,333.0" fill="none" stroke="#aeb3ba" stroke-width="0.7" />
<polyline points="173.0,325.4 173.0,345.4" fill="none" stroke="#aeb3ba" stroke-width="0.7" />
<polyline points="178.0,322.9 178.0,342.9" fill="none" stroke="#aeb3ba" stroke-width="0.7" />
<polygon points="147.0,329.0 173.0,341.4 173.0,345.4 147.0,333.0" fill="#e4e6ea" stroke="#b9bdc4" stroke-width="0.4" />
<polygon points="180.0,303.4 195.0,310.4 195.0,321.6 180.0,314.6" fill="#ecad72" stroke="#c27f45" stroke-width="0.5" />
<polygon points="195.0,310.4 210.5,303.0 210.5,314.2 195.0,321.6" fill="#dc9458" stroke="#c27f45" stroke-width="0.5" />
<polygon points="180.0,303.4 195.0,310.4 195.0,312.7 180.0,305.6" fill="#f3c288" />
<polygon points="195.0,310.4 210.5,303.0 210.5,305.2 195.0,312.7" fill="#e8ab6b" />
<polyline points="180.0,305.6 195.0,312.7 210.5,305.2" fill="none" stroke="#cd8a50" stroke-width="0.45" />
<polygon points="180.0,303.4 195.5,295.9 210.5,303.0 195.0,310.4" fill="#fbe0a0" stroke="#e0a965" stroke-width="0.45" />
<polygon points="199.3,313.0 205.8,309.9 205.8,313.0 199.3,316.2" fill="#f7d590" />
<polyline points="187.5,306.9 203.0,299.4" fill="none" stroke="#f0c67c" stroke-width="1.1" />
<polygon points="195.0,310.4 198.0,309.0 198.0,312.0 195.0,313.5" fill="#c98549" />
<polygon points="180.0,292.2 195.0,299.2 195.0,310.4 180.0,303.4" fill="#ecad72" stroke="#c27f45" stroke-width="0.5" />
<polygon points="195.0,299.2 210.5,291.8 210.5,303.0 195.0,310.4" fill="#dc9458" stroke="#c27f45" stroke-width="0.5" />
<polygon points="180.0,292.2 195.0,299.2 195.0,301.5 180.0,294.4" fill="#f3c288" />
<polygon points="195.0,299.2 210.5,291.8 210.5,294.0 195.0,301.5" fill="#e8ab6b" />
<polyline points="180.0,294.4 195.0,301.5 210.5,294.0" fill="none" stroke="#cd8a50" stroke-width="0.45" />
<polygon points="180.0,292.2 195.5,284.7 210.5,291.8 195.0,299.2" fill="#fbe0a0" stroke="#e0a965" stroke-width="0.45" />
<polygon points="199.3,301.8 205.8,298.7 205.8,301.8 199.3,305.0" fill="#f7d590" />
<polyline points="187.5,295.7 203.0,288.2" fill="none" stroke="#f0c67c" stroke-width="1.1" />
<polygon points="195.0,299.2 198.0,297.8 198.0,300.8 195.0,302.3" fill="#c98549" />
<polygon points="180.0,281.0 195.0,288.0 195.0,299.2 180.0,292.2" fill="#ecad72" stroke="#c27f45" stroke-width="0.5" />
<polygon points="195.0,288.0 210.5,280.6 210.5,291.8 195.0,299.2" fill="#dc9458" stroke="#c27f45" stroke-width="0.5" />
<polygon points="180.0,281.0 195.0,288.0 195.0,290.3 180.0,283.2" fill="#f3c288" />
<polygon points="195.0,288.0 210.5,280.6 210.5,282.8 195.0,290.3" fill="#e8ab6b" />
<polyline points="180.0,283.2 195.0,290.3 210.5,282.8" fill="none" stroke="#cd8a50" stroke-width="0.45" />
<polygon points="180.0,281.0 195.5,273.5 210.5,280.6 195.0,288.0" fill="#fbe0a0" stroke="#e0a965" stroke-width="0.45" />
<polygon points="199.3,290.6 205.8,287.5 205.8,290.6 199.3,293.8" fill="#f7d590" />
<polyline points="187.5,284.5 203.0,277.0" fill="none" stroke="#f0c67c" stroke-width="1.1" />
<polygon points="195.0,288.0 198.0,286.6 198.0,289.6 195.0,291.1" fill="#c98549" />
<polygon points="180.0,269.8 195.0,276.8 195.0,288.0 180.0,281.0" fill="#ecad72" stroke="#c27f45" stroke-width="0.5" />
<polygon points="195.0,276.8 210.5,269.4 210.5,280.6 195.0,288.0" fill="#dc9458" stroke="#c27f45" stroke-width="0.5" />
<polygon points="180.0,269.8 195.0,276.8 195.0,279.1 180.0,272.0" fill="#f3c288" />
<polygon points="195.0,276.8 210.5,269.4 210.5,271.6 195.0,279.1" fill="#e8ab6b" />
<polyline points="180.0,272.0 195.0,279.1 210.5,271.6" fill="none" stroke="#cd8a50" stroke-width="0.45" />
<polygon points="180.0,269.8 195.5,262.3 210.5,269.4 195.0,276.8" fill="#fbe0a0" stroke="#e0a965" stroke-width="0.45" />
<polygon points="199.3,279.4 205.8,276.3 205.8,279.4 199.3,282.6" fill="#f7d590" />
<polyline points="187.5,273.3 203.0,265.8" fill="none" stroke="#f0c67c" stroke-width="1.1" />
<polygon points="195.0,276.8 198.0,275.4 198.0,278.4 195.0,279.9" fill="#c98549" />
<polygon points="164.5,310.8 179.5,317.9 179.5,329.1 164.5,322.0" fill="#ecad72" stroke="#c27f45" stroke-width="0.5" />
<polygon points="179.5,317.9 195.0,310.4 195.0,321.6 179.5,329.1" fill="#dc9458" stroke="#c27f45" stroke-width="0.5" />
<polygon points="164.5,310.8 179.5,317.9 179.5,320.1 164.5,313.0" fill="#f3c288" />
<polygon points="179.5,317.9 195.0,310.4 195.0,312.7 179.5,320.1" fill="#e8ab6b" />
<polyline points="164.5,313.0 179.5,320.1 195.0,312.7" fill="none" stroke="#cd8a50" stroke-width="0.45" />
<polygon points="164.5,310.8 180.0,303.4 195.0,310.4 179.5,317.9" fill="#fbe0a0" stroke="#e0a965" stroke-width="0.45" />
<polygon points="183.8,320.5 190.3,317.3 190.3,320.5 183.8,323.6" fill="#f7d590" />
<polyline points="172.0,314.3 187.5,306.9" fill="none" stroke="#f0c67c" stroke-width="1.1" />
<polygon points="179.5,317.9 182.5,316.4 182.5,319.5 179.5,320.9" fill="#c98549" />
<polygon points="164.5,299.6 179.5,306.7 179.5,317.9 164.5,310.8" fill="#ecad72" stroke="#c27f45" stroke-width="0.5" />
<polygon points="179.5,306.7 195.0,299.2 195.0,310.4 179.5,317.9" fill="#dc9458" stroke="#c27f45" stroke-width="0.5" />
<polygon points="164.5,299.6 179.5,306.7 179.5,308.9 164.5,301.8" fill="#f3c288" />
<polygon points="179.5,306.7 195.0,299.2 195.0,301.5 179.5,308.9" fill="#e8ab6b" />
<polyline points="164.5,301.8 179.5,308.9 195.0,301.5" fill="none" stroke="#cd8a50" stroke-width="0.45" />
<polygon points="164.5,299.6 180.0,292.2 195.0,299.2 179.5,306.7" fill="#fbe0a0" stroke="#e0a965" stroke-width="0.45" />
<polygon points="183.8,309.3 190.3,306.1 190.3,309.3 183.8,312.4" fill="#f7d590" />
<polyline points="172.0,303.1 187.5,295.7" fill="none" stroke="#f0c67c" stroke-width="1.1" />
<polygon points="179.5,306.7 182.5,305.2 182.5,308.3 179.5,309.7" fill="#c98549" />
<polygon points="164.5,288.4 179.5,295.4 179.5,306.6 164.5,299.6" fill="#ecad72" stroke="#c27f45" stroke-width="0.5" />
<polygon points="179.5,295.4 195.0,288.0 195.0,299.2 179.5,306.6" fill="#dc9458" stroke="#c27f45" stroke-width="0.5" />
<polygon points="164.5,288.4 179.5,295.4 179.5,297.7 164.5,290.6" fill="#f3c288" />
<polygon points="179.5,295.4 195.0,288.0 195.0,290.2 179.5,297.7" fill="#e8ab6b" />
<polyline points="164.5,290.6 179.5,297.7 195.0,290.2" fill="none" stroke="#cd8a50" stroke-width="0.45" />
<polygon points="164.5,288.4 180.0,281.0 195.0,288.0 179.5,295.4" fill="#fbe0a0" stroke="#e0a965" stroke-width="0.45" />
<polygon points="183.8,298.1 190.3,294.9 190.3,298.1 183.8,301.2" fill="#f7d590" />
<polyline points="172.0,291.9 187.5,284.5" fill="none" stroke="#f0c67c" stroke-width="1.1" />
<polygon points="179.5,295.4 182.5,294.0 182.5,297.1 179.5,298.5" fill="#c98549" />
<polygon points="164.5,277.2 179.5,284.2 179.5,295.4 164.5,288.4" fill="#ecad72" stroke="#c27f45" stroke-width="0.5" />
<polygon points="179.5,284.2 195.0,276.8 195.0,288.0 179.5,295.4" fill="#dc9458" stroke="#c27f45" stroke-width="0.5" />
<polygon points="164.5,277.2 179.5,284.2 179.5,286.5 164.5,279.4" fill="#f3c288" />
<polygon points="179.5,284.2 195.0,276.8 195.0,279.1 179.5,286.5" fill="#e8ab6b" />
<polyline points="164.5,279.4 179.5,286.5 195.0,279.1" fill="none" stroke="#cd8a50" stroke-width="0.45" />
<polygon points="164.5,277.2 180.0,269.8 195.0,276.8 179.5,284.2" fill="#fbe0a0" stroke="#e0a965" stroke-width="0.45" />
<polygon points="183.8,286.9 190.3,283.7 190.3,286.9 183.8,290.0" fill="#f7d590" />
<polyline points="172.0,280.7 187.5,273.3" fill="none" stroke="#f0c67c" stroke-width="1.1" />
<polygon points="179.5,284.2 182.5,282.8 182.5,285.9 179.5,287.3" fill="#c98549" />
<polygon points="195.0,310.4 210.0,317.5 210.0,328.7 195.0,321.6" fill="#ecad72" stroke="#c27f45" stroke-width="0.5" />
<polygon points="210.0,317.5 225.5,310.0 225.5,321.2 210.0,328.7" fill="#dc9458" stroke="#c27f45" stroke-width="0.5" />
<polygon points="195.0,310.4 210.0,317.5 210.0,319.7 195.0,312.7" fill="#f3c288" />
<polygon points="210.0,317.5 225.5,310.0 225.5,312.3 210.0,319.7" fill="#e8ab6b" />
<polyline points="195.0,312.7 210.0,319.7 225.5,312.3" fill="none" stroke="#cd8a50" stroke-width="0.45" />
<polygon points="195.0,310.4 210.5,303.0 225.5,310.0 210.0,317.5" fill="#fbe0a0" stroke="#e0a965" stroke-width="0.45" />
<polygon points="214.3,320.1 220.8,317.0 220.8,320.1 214.3,323.2" fill="#f7d590" />
<polyline points="202.5,313.9 218.0,306.5" fill="none" stroke="#f0c67c" stroke-width="1.1" />
<polygon points="210.0,317.5 213.0,316.0 213.0,319.1 210.0,320.5" fill="#c98549" />
<polygon points="195.0,299.2 210.0,306.3 210.0,317.5 195.0,310.4" fill="#ecad72" stroke="#c27f45" stroke-width="0.5" />
<polygon points="210.0,306.3 225.5,298.8 225.5,310.0 210.0,317.5" fill="#dc9458" stroke="#c27f45" stroke-width="0.5" />
<polygon points="195.0,299.2 210.0,306.3 210.0,308.5 195.0,301.5" fill="#f3c288" />
<polygon points="210.0,306.3 225.5,298.8 225.5,301.1 210.0,308.5" fill="#e8ab6b" />
<polyline points="195.0,301.5 210.0,308.5 225.5,301.1" fill="none" stroke="#cd8a50" stroke-width="0.45" />
<polygon points="195.0,299.2 210.5,291.8 225.5,298.8 210.0,306.3" fill="#fbe0a0" stroke="#e0a965" stroke-width="0.45" />
<polygon points="214.3,308.9 220.8,305.8 220.8,308.9 214.3,312.0" fill="#f7d590" />
<polyline points="202.5,302.7 218.0,295.3" fill="none" stroke="#f0c67c" stroke-width="1.1" />
<polygon points="210.0,306.3 213.0,304.8 213.0,307.9 210.0,309.3" fill="#c98549" />
<polygon points="195.0,288.0 210.0,295.1 210.0,306.3 195.0,299.2" fill="#ecad72" stroke="#c27f45" stroke-width="0.5" />
<polygon points="210.0,295.1 225.5,287.6 225.5,298.8 210.0,306.3" fill="#dc9458" stroke="#c27f45" stroke-width="0.5" />
<polygon points="195.0,288.0 210.0,295.1 210.0,297.3 195.0,290.2" fill="#f3c288" />
<polygon points="210.0,295.1 225.5,287.6 225.5,289.9 210.0,297.3" fill="#e8ab6b" />
<polyline points="195.0,290.2 210.0,297.3 225.5,289.9" fill="none" stroke="#cd8a50" stroke-width="0.45" />
<polygon points="195.0,288.0 210.5,280.6 225.5,287.6 210.0,295.1" fill="#fbe0a0" stroke="#e0a965" stroke-width="0.45" />
<polygon points="214.3,297.7 220.8,294.6 220.8,297.7 214.3,300.8" fill="#f7d590" />
<polyline points="202.5,291.5 218.0,284.1" fill="none" stroke="#f0c67c" stroke-width="1.1" />
<polygon points="210.0,295.1 213.0,293.6 213.0,296.7 210.0,298.1" fill="#c98549" />
<polygon points="179.5,317.9 194.5,324.9 194.5,336.1 179.5,329.1" fill="#ecad72" stroke="#c27f45" stroke-width="0.5" />
<polygon points="194.5,324.9 210.0,317.5 210.0,328.7 194.5,336.1" fill="#dc9458" stroke="#c27f45" stroke-width="0.5" />
<polygon points="179.5,317.9 194.5,324.9 194.5,327.1 179.5,320.1" fill="#f3c288" />
<polygon points="194.5,324.9 210.0,317.5 210.0,319.7 194.5,327.1" fill="#e8ab6b" />
<polyline points="179.5,320.1 194.5,327.1 210.0,319.7" fill="none" stroke="#cd8a50" stroke-width="0.45" />
<polygon points="179.5,317.9 195.0,310.4 210.0,317.5 194.5,324.9" fill="#fbe0a0" stroke="#e0a965" stroke-width="0.45" />
<polygon points="198.8,327.5 205.3,324.4 205.3,327.5 198.8,330.7" fill="#f7d590" />
<polyline points="187.0,321.4 202.5,313.9" fill="none" stroke="#f0c67c" stroke-width="1.1" />
<polygon points="194.5,324.9 197.5,323.5 197.5,326.5 194.5,327.9" fill="#c98549" />
<polygon points="179.5,306.7 194.5,313.7 194.5,324.9 179.5,317.9" fill="#ecad72" stroke="#c27f45" stroke-width="0.5" />
<polygon points="194.5,313.7 210.0,306.3 210.0,317.5 194.5,324.9" fill="#dc9458" stroke="#c27f45" stroke-width="0.5" />
<polygon points="179.5,306.7 194.5,313.7 194.5,315.9 179.5,308.9" fill="#f3c288" />
<polygon points="194.5,313.7 210.0,306.3 210.0,308.5 194.5,315.9" fill="#e8ab6b" />
<polyline points="179.5,308.9 194.5,315.9 210.0,308.5" fill="none" stroke="#cd8a50" stroke-width="0.45" />
<polygon points="179.5,306.7 195.0,299.2 210.0,306.3 194.5,313.7" fill="#fbe0a0" stroke="#e0a965" stroke-width="0.45" />
<polygon points="198.8,316.3 205.3,313.2 205.3,316.3 198.8,319.5" fill="#f7d590" />
<polyline points="187.0,310.2 202.5,302.7" fill="none" stroke="#f0c67c" stroke-width="1.1" />
<polygon points="194.5,313.7 197.5,312.3 197.5,315.3 194.5,316.7" fill="#c98549" />
<polygon points="179.5,295.5 194.5,302.5 194.5,313.7 179.5,306.7" fill="#ecad72" stroke="#c27f45" stroke-width="0.5" />
<polygon points="194.5,302.5 210.0,295.1 210.0,306.3 194.5,313.7" fill="#dc9458" stroke="#c27f45" stroke-width="0.5" />
<polygon points="179.5,295.5 194.5,302.5 194.5,304.7 179.5,297.7" fill="#f3c288" />
<polygon points="194.5,302.5 210.0,295.1 210.0,297.3 194.5,304.7" fill="#e8ab6b" />
<polyline points="179.5,297.7 194.5,304.7 210.0,297.3" fill="none" stroke="#cd8a50" stroke-width="0.45" />
<polygon points="179.5,295.5 195.0,288.0 210.0,295.1 194.5,302.5" fill="#fbe0a0" stroke="#e0a965" stroke-width="0.45" />
<polygon points="198.8,305.1 205.3,302.0 205.3,305.1 198.8,308.3" fill="#f7d590" />
<polyline points="187.0,299.0 202.5,291.5" fill="none" stroke="#f0c67c" stroke-width="1.1" />
<polygon points="194.5,302.5 197.5,301.1 197.5,304.1 194.5,305.5" fill="#c98549" />
<polygon points="212.0,322.5 227.0,329.6 227.0,340.1 212.0,333.0" fill="#ecad72" stroke="#c27f45" stroke-width="0.5" />
<polygon points="227.0,329.6 242.5,322.1 242.5,332.6 227.0,340.1" fill="#dc9458" stroke="#c27f45" stroke-width="0.5" />
<polygon points="212.0,322.5 227.0,329.6 227.0,331.7 212.0,324.6" fill="#f3c288" />
<polygon points="227.0,329.6 242.5,322.1 242.5,324.2 227.0,331.7" fill="#e8ab6b" />
<polyline points="212.0,324.6 227.0,331.7 242.5,324.2" fill="none" stroke="#cd8a50" stroke-width="0.45" />
<polygon points="212.0,322.5 227.5,315.1 242.5,322.1 227.0,329.6" fill="#fbe0a0" stroke="#e0a965" stroke-width="0.45" />
<polygon points="231.3,331.9 237.8,328.8 237.8,331.7 231.3,334.8" fill="#f7d590" />
<polyline points="219.5,326.0 235.0,318.6" fill="none" stroke="#f0c67c" stroke-width="1.1" />
<polygon points="227.0,329.6 230.0,328.1 230.0,331.0 227.0,332.5" fill="#c98549" />
<polygon points="195.9,330.0 210.9,337.1 210.9,347.6 195.9,340.5" fill="#ecad72" stroke="#c27f45" stroke-width="0.5" />
<polygon points="210.9,337.1 226.4,329.6 226.4,340.1 210.9,347.6" fill="#dc9458" stroke="#c27f45" stroke-width="0.5" />
<polygon points="195.9,330.0 210.9,337.1 210.9,339.2 195.9,332.1" fill="#f3c288" />
<polygon points="210.9,337.1 226.4,329.6 226.4,331.7 210.9,339.2" fill="#e8ab6b" />
<polyline points="195.9,332.1 210.9,339.2 226.4,331.7" fill="none" stroke="#cd8a50" stroke-width="0.45" />
<polygon points="195.9,330.0 211.4,322.6 226.4,329.6 210.9,337.1" fill="#fbe0a0" stroke="#e0a965" stroke-width="0.45" />
<polygon points="215.2,339.4 221.8,336.3 221.8,339.2 215.2,342.3" fill="#f7d590" />
<polyline points="203.4,333.5 218.9,326.1" fill="none" stroke="#f0c67c" stroke-width="1.1" />
<polygon points="210.9,337.1 213.9,335.6 213.9,338.5 210.9,340.0" fill="#c98549" />
<polygon points="289.0,200.0 292.5,198.5 292.5,252.0 289.0,253.0" fill="#fafbfc" stroke="#dfe2e6" stroke-width="0.4" />
<polygon points="304.8,212.4 316.8,216.0 316.8,294.0 304.8,288.5" fill="#f6f7f8" />
<polygon points="316.8,216.0 330.0,208.8 330.0,286.5 316.8,294.0" fill="#d6d9de" />
<polygon points="304.8,212.4 318.0,206.4 330.0,208.8 316.8,216.0" fill="#ffffff" stroke="#e3e6ea" stroke-width="0.4" />
<polygon points="301.0,286.0 317.0,293.5 317.0,299.5 301.0,292.0" fill="#f4f5f7" />
<polygon points="317.0,293.5 333.0,285.5 333.0,291.5 317.0,299.5" fill="#d3d7dc" />
<polygon points="293.5,265.5 305.0,271.0 305.0,292.0 293.5,286.5" fill="#f7f8f9" />
<polygon points="305.0,271.0 312.0,267.5 312.0,288.5 305.0,292.0" fill="#e4e6ea" />
<polygon points="293.5,265.5 300.5,262.0 312.0,267.5 305.0,271.0" fill="#ffffff" />
<polyline points="399.5,173.5 400.2,183.5" fill="none" stroke="#8b9097" stroke-width="1" />
<polygon points="396.0,174.0 402.0,174.0 402.0,176.5 396.0,176.5" fill="#7d2a33" />
<ellipse cx="399.0" cy="171.5" rx="3.4" ry="3.1" fill="#e02a3c" />
<ellipse cx="399.0" cy="176.3" rx="3.2" ry="1.3" fill="#9aa0a6" />
<polygon points="384.0,197.0 431.0,219.1 431.0,266.1 384.0,244.0" fill="#fbfcfc" />
<polygon points="431.0,219.1 446.0,211.6 446.0,258.6 431.0,266.1" fill="#eceef1" />
<polygon points="384.0,197.0 399.0,189.5 446.0,211.6 431.0,219.1" fill="#ffffff" />
<polyline points="399.0,189.5 446.0,211.6" fill="none" stroke="#e4e7ea" stroke-width="0.5" />
<text x="0" y="0" font-size="5.4" font-weight="bold" font-style="italic" fill="#259a68" stroke="#259a68" stroke-width="0.25" transform="translate(410,206.6) skewY(25.2) scale(0.95,1)">NewPwr</text>
<polygon points="406.8,214.5 431.0,225.9 431.0,227.8 406.8,216.3" fill="#17181c" />
<polygon points="389.2,180.4 404.6,187.3 404.6,205.9 389.2,199.0" fill="#1d1e22" />
<polygon points="390.6,182.4 403.2,188.1 403.2,203.1 390.6,197.4" fill="#ffffff" />
<polygon points="396.7,199.5 398.9,200.5 398.9,205.5 396.7,204.5" fill="#4a4b52" />
<polygon points="385.2,203.0 392.2,199.5 405.2,205.3 398.2,208.8" fill="#8c8e95" />
<polygon points="385.2,203.0 398.2,208.8 398.2,210.0 385.2,204.2" fill="#5c5e66" />
<polygon points="431.0,234.0 513.0,272.9 513.0,288.9 431.0,250.0" fill="#f6f7f8" />
<polygon points="513.0,272.9 529.0,264.9 529.0,280.9 513.0,288.9" fill="#e6e8ec" />
<polygon points="431.0,234.0 447.0,226.0 529.0,264.9 513.0,272.9" fill="#ffffff" />
<polygon points="450.2,228.3 456.0,225.0 459.0,228.6 453.2,232.2" fill="#52b79a" stroke="#ffffff" stroke-width="0.9" />
<polyline points="449.2,227.4 457.6,221.8 463.8,226.2" fill="none" stroke="#c9ced5" stroke-width="3.0" stroke-linejoin="round" stroke-linecap="round"/>
<polyline points="449.2,227.4 457.6,221.8 463.8,226.2" fill="none" stroke="#ffffff" stroke-width="2.2" stroke-linejoin="round" stroke-linecap="round"/>
<polygon points="460.6,227.0 464.4,225.4 466.4,227.0 466.4,233.2 462.8,235.0 460.4,233.2" fill="#4a4958" />
<polygon points="460.6,227.0 464.4,225.4 466.4,227.0 463.0,228.8" fill="#6d6c7c" />
<polygon points="470.0,237.9 475.8,234.6 478.8,238.2 473.0,241.8" fill="#52b79a" stroke="#ffffff" stroke-width="0.9" />
<polyline points="469.0,237.0 477.4,231.4 483.6,235.8" fill="none" stroke="#c9ced5" stroke-width="3.0" stroke-linejoin="round" stroke-linecap="round"/>
<polyline points="469.0,237.0 477.4,231.4 483.6,235.8" fill="none" stroke="#ffffff" stroke-width="2.2" stroke-linejoin="round" stroke-linecap="round"/>
<polygon points="480.4,236.6 484.2,235.0 486.2,236.6 486.2,242.8 482.6,244.6 480.2,242.8" fill="#4a4958" />
<polygon points="480.4,236.6 484.2,235.0 486.2,236.6 482.8,238.4" fill="#6d6c7c" />
<polygon points="497.0,249.9 502.8,246.6 505.8,250.2 500.0,253.8" fill="#52b79a" stroke="#ffffff" stroke-width="0.9" />
<polyline points="496.0,249.0 504.4,243.4 510.6,247.8" fill="none" stroke="#c9ced5" stroke-width="3.0" stroke-linejoin="round" stroke-linecap="round"/>
<polyline points="496.0,249.0 504.4,243.4 510.6,247.8" fill="none" stroke="#ffffff" stroke-width="2.2" stroke-linejoin="round" stroke-linecap="round"/>
<polygon points="507.4,248.6 511.2,247.0 513.2,248.6 513.2,254.8 509.6,256.6 507.2,254.8" fill="#4a4958" />
<polygon points="507.4,248.6 511.2,247.0 513.2,248.6 509.8,250.4" fill="#6d6c7c" />
<polygon points="437.4,237.4 440.9,235.6 443.4,236.8 443.4,242.4 440.1,244.0 437.4,242.6" fill="#2b2c33" />
<polygon points="437.4,237.4 440.9,235.6 443.4,236.8 440.1,238.6" fill="#50525c" />
<polygon points="441.6,235.0 444.6,233.4 445.4,234.4 442.6,236.0" fill="#f3f4f6" stroke="#aeb3ba" stroke-width="0.3" />
<polygon points="451.8,243.4 455.3,241.6 457.8,242.8 457.8,248.4 454.5,250.0 451.8,248.6" fill="#2b2c33" />
<polygon points="451.8,243.4 455.3,241.6 457.8,242.8 454.5,244.6" fill="#50525c" />
<polygon points="456.0,241.0 459.0,239.4 459.8,240.4 457.0,242.0" fill="#f3f4f6" stroke="#aeb3ba" stroke-width="0.3" />
<polygon points="469.2,251.2 472.7,249.4 475.2,250.6 475.2,256.2 471.9,257.8 469.2,256.4" fill="#2b2c33" />
<polygon points="469.2,251.2 472.7,249.4 475.2,250.6 471.9,252.4" fill="#50525c" />
<polygon points="473.4,248.8 476.4,247.2 477.2,248.2 474.4,249.8" fill="#f3f4f6" stroke="#aeb3ba" stroke-width="0.3" />
<polygon points="485.4,258.4 488.9,256.6 491.4,257.8 491.4,263.4 488.1,265.0 485.4,263.6" fill="#2b2c33" />
<polygon points="485.4,258.4 488.9,256.6 491.4,257.8 488.1,259.6" fill="#50525c" />
<polygon points="489.6,256.0 492.6,254.4 493.4,255.4 490.6,257.0" fill="#f3f4f6" stroke="#aeb3ba" stroke-width="0.3" />
<polygon points="501.0,265.6 504.5,263.8 507.0,265.0 507.0,270.6 503.7,272.2 501.0,270.8" fill="#2b2c33" />
<polygon points="501.0,265.6 504.5,263.8 507.0,265.0 503.7,266.8" fill="#50525c" />
<polygon points="505.2,263.2 508.2,261.6 509.0,262.6 506.2,264.2" fill="#f3f4f6" stroke="#aeb3ba" stroke-width="0.3" />
<polyline points="531.0,237.5 531.7,247.5" fill="none" stroke="#8b9097" stroke-width="1" />
<polygon points="527.5,238.0 533.5,238.0 533.5,240.5 527.5,240.5" fill="#7d2a33" />
<ellipse cx="530.5" cy="235.5" rx="3.4" ry="3.1" fill="#e02a3c" />
<ellipse cx="530.5" cy="240.3" rx="3.2" ry="1.3" fill="#9aa0a6" />
<polygon points="513.0,281.0 528.0,273.5 574.0,296.0 559.0,304.0" fill="#ffffff" />
<polygon points="513.0,281.0 559.0,304.0 559.0,329.5 513.0,306.0" fill="#fbfcfc" />
<polygon points="559.0,304.0 574.0,296.5 574.0,322.0 559.0,329.5" fill="#e9ebee" />
<polygon points="516.0,292.0 559.0,312.0 559.0,318.0 516.0,298.0" fill="#4c4c5a" />
<polygon points="574.0,306.5 586.0,301.0 596.0,305.0 585.0,311.0" fill="#ffffff" />
<polygon points="574.0,306.5 585.0,311.0 585.0,329.5 574.0,324.0" fill="#f9fafb" />
<polygon points="585.0,311.0 596.0,305.0 596.0,323.5 585.0,329.5" fill="#e6e8ec" />
<polygon points="535.0,255.5 541.0,252.5 576.5,269.5 570.5,272.5" fill="#6b6b7b" />
<polygon points="535.0,255.5 570.5,272.5 570.5,296.0 535.0,279.0" fill="#4b4b5a" />
<polygon points="570.5,272.5 576.5,269.5 576.5,293.0 570.5,296.0" fill="#383845" />
<polygon points="536.5,262.0 567.0,276.3 567.0,291.0 536.5,277.0" fill="#8d8d9c" />
<polygon points="538.0,267.0 564.0,278.5 564.0,288.3 538.0,277.0" fill="#ffffff" />
<polygon points="538.0,277.0 564.0,288.3 564.0,290.5 538.0,279.2" fill="#1e1e26" />
<polygon points="520.0,244.0 535.0,250.8 535.0,268.2 520.0,261.5" fill="#1d1e22" />
<polygon points="521.4,246.0 533.6,251.5 533.6,265.4 521.4,259.9" fill="#ffffff" />
<polygon points="527.2,261.9 529.5,262.9 529.5,267.9 527.2,266.9" fill="#4a4b52" />
<polygon points="516.0,265.5 523.0,262.0 536.0,267.9 529.0,271.4" fill="#8c8e95" />
<polygon points="516.0,265.5 529.0,271.4 529.0,272.6 516.0,266.7" fill="#5c5e66" />
<polyline points="577.5,296.5 580.5,292.5 585.0,299.5" fill="none" stroke="#c9ced5" stroke-width="2.6" stroke-linejoin="round" stroke-linecap="round"/>
<polyline points="577.5,296.5 580.5,292.5 585.0,299.5" fill="none" stroke="#ffffff" stroke-width="1.9" stroke-linejoin="round" stroke-linecap="round"/>
<polygon points="578.0,300.0 580.5,298.8 581.0,301.5 578.5,302.6" fill="#52b79a" />
<polygon points="582.5,302.5 586.0,300.8 587.0,306.5 583.5,308.5" fill="#3d3c4a" />
<polygon points="564.5,306.5 568.0,305.5 568.0,308.3 564.5,309.3" fill="#2c2e35" />
<polyline points="343.7,250.4 344.4,260.4" fill="none" stroke="#8b9097" stroke-width="1" />
<polygon points="340.2,250.9 346.2,250.9 346.2,253.4 340.2,253.4" fill="#7d2a33" />
<ellipse cx="343.2" cy="248.4" rx="3.4" ry="3.1" fill="#e02a3c" />
<ellipse cx="343.2" cy="253.2" rx="3.2" ry="1.3" fill="#9aa0a6" />
<polygon points="331.0,270.0 429.0,316.6 429.0,338.6 331.0,292.0" fill="#f9fafb" />
<polygon points="429.0,316.6 447.0,307.6 447.0,329.6 429.0,338.6" fill="#e6e8ec" />
<polygon points="331.0,270.0 349.0,261.0 447.0,307.6 429.0,316.6" fill="#ffffff" />
<polyline points="349.0,261.0 447.0,307.6" fill="none" stroke="#e1e4e8" stroke-width="0.5" />
<polygon points="334.3,256.3 347.3,262.2 347.3,277.7 334.3,271.8" fill="#1d1e22" />
<polygon points="335.7,258.3 345.9,262.9 345.9,274.8 335.7,270.2" fill="#ffffff" />
<polygon points="340.4,271.7 342.6,272.7 342.6,277.7 340.4,276.7" fill="#4a4b52" />
<polygon points="330.3,275.8 337.3,272.3 350.3,278.2 343.3,281.7" fill="#8c8e95" />
<polygon points="330.3,275.8 343.3,281.7 343.3,282.9 330.3,277.0" fill="#5c5e66" />
<polyline points="455.1,303.6 455.8,313.6" fill="none" stroke="#8b9097" stroke-width="1" />
<polygon points="451.6,304.1 457.6,304.1 457.6,306.6 451.6,306.6" fill="#7d2a33" />
<ellipse cx="454.6" cy="301.6" rx="3.4" ry="3.1" fill="#e02a3c" />
<ellipse cx="454.6" cy="306.4" rx="3.2" ry="1.3" fill="#9aa0a6" />
<polygon points="445.0,330.0 523.0,367.1 523.0,387.1 445.0,350.0" fill="#f9fafb" />
<polygon points="523.0,367.1 549.0,354.1 549.0,374.1 523.0,387.1" fill="#e6e8ec" />
<polygon points="445.0,330.0 471.0,317.0 549.0,354.1 523.0,367.1" fill="#ffffff" />
<polygon points="452.0,339.0 516.0,369.0 516.0,374.5 452.0,344.5" fill="#8f9096" />
<polyline points="471.0,317.0 549.0,354.0" fill="none" stroke="#e1e4e8" stroke-width="0.5" />
<polygon points="445.0,310.0 458.0,315.9 458.0,332.9 445.0,327.0" fill="#1d1e22" />
<polygon points="446.4,312.0 456.6,316.6 456.6,330.0 446.4,325.4" fill="#ffffff" />
<polygon points="451.1,326.9 453.3,327.9 453.3,332.9 451.1,331.9" fill="#4a4b52" />
<polygon points="352.0,343.8 355.5,341.8 513.9,415.6 510.4,417.6" fill="#ffffff" stroke="#dfe2e6" stroke-width="0.4" />
<polygon points="352.0,343.8 510.4,417.6 510.4,444.0 352.0,368.8" fill="#f9fafb" stroke="#e3e6ea" stroke-width="0.4" />
<polygon points="510.4,417.6 513.9,415.6 513.9,441.8 510.4,444.0" fill="#e3e6ea" />
<polyline points="352.0,346.3 510.4,420.1" fill="none" stroke="#dcd3d6" stroke-width="0.6" />
<polygon points="292.8,240.0 303.6,244.9 303.6,260.5 292.8,255.6" fill="#1d1e22" />
<polygon points="294.2,242.0 302.2,245.6 302.2,257.6 294.2,254.0" fill="#ffffff" />
<polygon points="281.8,268.0 288.9,269.0 288.4,287.5 282.5,285.7" fill="#bdbdbd" />
<polygon points="288.9,269.0 295.2,268.0 294.1,288.4 288.9,289.3" fill="#505050" />
<polygon points="282.5,285.7 288.4,287.5 286.5,288.8 281.1,286.6" fill="#9a9a9a" />
<polygon points="288.9,289.3 294.1,288.4 296.7,287.3 292.3,286.4" fill="#3b3b3b" />
<polygon points="281.4,254.6 286.2,251.9 289.2,252.8 289.1,270.0 281.8,269.0" fill="#bdbdbd" />
<polygon points="289.2,252.8 294.5,254.6 295.6,269.0 289.1,270.0" fill="#505050" />
<polygon points="292.3,255.0 295.2,255.9 296.0,260.7 295.6,263.4 293.1,261.2" fill="#505050" />
<ellipse cx="297.1" cy="262.0" rx="1.7692307692307692" ry="1.4153846153846155" fill="#f0b38b" />
<ellipse cx="288.7" cy="247.7" rx="4.06923076923077" ry="4.953846153846155" fill="#f0b38b" />
<polygon points="309.0,268.0 313.0,262.0 318.0,261.0 322.0,264.0 327.0,270.0 326.0,275.0 321.0,272.0 317.0,268.0 314.0,274.0 310.0,275.0" fill="#fbfbfc" stroke="#c6cbd1" stroke-width="0.5" />
<polygon points="310.5,269.0 314.0,268.0 314.5,274.0 311.0,275.5" fill="#3d4f6b" />
<polygon points="368.8,223.7 377.2,224.7 376.7,246.8 369.6,244.7" fill="#bdbdbd" />
<polygon points="377.2,224.7 384.8,223.7 383.5,247.9 377.2,248.9" fill="#505050" />
<polygon points="369.6,244.7 376.7,246.8 374.4,248.4 367.9,245.7" fill="#9a9a9a" />
<polygon points="377.2,248.9 383.5,247.9 386.5,246.6 381.3,245.5" fill="#3b3b3b" />
<polygon points="368.3,207.4 374.0,204.2 377.6,205.3 377.4,225.7 368.8,224.7" fill="#bdbdbd" />
<polygon points="377.6,205.3 383.9,207.4 385.2,224.7 377.4,225.7" fill="#505050" />
<polygon points="381.3,207.9 384.8,209.0 390.0,209.4 389.5,212.7 382.2,215.3" fill="#505050" />
<ellipse cx="391.3" cy="211.0" rx="2.1153846153846154" ry="1.6923076923076925" fill="#f0b38b" />
<ellipse cx="377.0" cy="199.2" rx="4.865384615384616" ry="5.923076923076923" fill="#f0b38b" />
<polygon points="454.0,265.2 461.7,266.2 461.2,286.3 454.8,284.3" fill="#bdbdbd" />
<polygon points="461.7,266.2 468.6,265.2 467.4,287.2 461.7,288.2" fill="#505050" />
<polygon points="454.8,284.3 461.2,286.3 459.1,287.7 453.2,285.3" fill="#9a9a9a" />
<polygon points="461.7,288.2 467.4,287.2 470.2,286.1 465.4,285.1" fill="#3b3b3b" />
<polygon points="453.6,250.5 458.7,247.6 462.1,248.5 461.9,267.2 454.0,266.2" fill="#bdbdbd" />
<polygon points="462.1,248.5 467.8,250.5 469.0,266.2 461.9,267.2" fill="#505050" />
<polygon points="465.4,250.9 468.6,251.9 472.0,250.6 471.5,253.5 466.2,257.7" fill="#505050" />
<ellipse cx="473.2" cy="252.0" rx="1.9230769230769231" ry="1.5384615384615385" fill="#f0b38b" />
<ellipse cx="461.5" cy="243.0" rx="4.423076923076923" ry="5.384615384615385" fill="#f0b38b" />
<polygon points="476.0,280.0 481.0,277.5 505.0,288.9 500.0,291.4" fill="#f1f2f4" stroke="#b9bdc4" stroke-width="0.5" />
<polygon points="476.0,283.4 481.0,280.9 505.0,292.3 500.0,294.8" fill="#f1f2f4" stroke="#b9bdc4" stroke-width="0.5" />
<polygon points="476.0,286.8 481.0,284.3 505.0,295.7 500.0,298.2" fill="#f1f2f4" stroke="#b9bdc4" stroke-width="0.5" />
<polygon points="476.0,290.2 481.0,287.7 505.0,299.1 500.0,301.6" fill="#f1f2f4" stroke="#b9bdc4" stroke-width="0.5" />
<polygon points="476.0,293.6 481.0,291.1 505.0,302.5 500.0,305.0" fill="#f1f2f4" stroke="#b9bdc4" stroke-width="0.5" />
<polyline points="476.0,280.0 476.0,297.0" fill="none" stroke="#aeb3ba" stroke-width="0.7" />
<polyline points="500.0,291.4 500.0,308.4" fill="none" stroke="#aeb3ba" stroke-width="0.7" />
<polyline points="505.0,288.9 505.0,305.9" fill="none" stroke="#aeb3ba" stroke-width="0.7" />
<polygon points="476.0,293.6 500.0,305.0 500.0,308.4 476.0,297.0" fill="#e4e6ea" stroke="#b9bdc4" stroke-width="0.4" />
<polygon points="431.5,343.2 439.2,344.2 438.7,364.3 432.3,362.3" fill="#bdbdbd" />
<polygon points="439.2,344.2 446.1,343.2 444.9,365.2 439.2,366.2" fill="#505050" />
<polygon points="432.3,362.3 438.7,364.3 436.6,365.7 430.7,363.3" fill="#9a9a9a" />
<polygon points="439.2,366.2 444.9,365.2 447.7,364.1 442.9,363.1" fill="#3b3b3b" />
<polygon points="431.1,328.5 436.2,325.6 439.6,326.5 439.4,345.2 431.5,344.2" fill="#bdbdbd" />
<polygon points="439.6,326.5 445.3,328.5 446.5,344.2 439.4,345.2" fill="#505050" />
<polygon points="442.9,328.9 446.1,329.9 449.0,333.6 448.5,336.5 443.7,335.7" fill="#505050" />
<ellipse cx="450.2" cy="335.0" rx="1.9230769230769231" ry="1.5384615384615385" fill="#f0b38b" />
<ellipse cx="439.0" cy="321.0" rx="4.423076923076923" ry="5.384615384615385" fill="#f0b38b" />
<polygon points="328.8,404.5 373.8,426.3 373.8,438.8 328.8,417.0" fill="#f6c190" />
<polygon points="373.8,426.3 401.3,413.1 401.3,425.6 373.8,438.8" fill="#eea873" />
<polygon points="328.8,404.5 356.3,391.3 401.3,413.1 373.8,426.3" fill="#f9d0a2" />
<polygon points="347.5,381.5 365.7,389.7 365.7,409.7 347.5,401.5" fill="#1d1e22" />
<polygon points="348.9,383.5 364.3,390.5 364.3,406.8 348.9,399.9" fill="#1d1e22" />
<ellipse cx="356.5" cy="409.5" rx="7.5" ry="3.3" fill="#6c6f78" />
<polygon points="355.0,398.0 359.0,400.0 360.5,409.0 353.0,409.0" fill="#55585f" />
<polygon points="371.8,380.2 376.8,377.2 382.8,378.2 389.3,383.2 390.3,403.2 381.8,407.2 371.8,400.2" fill="#eceef1" />
<polygon points="382.8,378.2 389.3,383.2 390.3,403.2 384.8,405.7" fill="#c9ccd2" />
<polygon points="372.8,386.2 375.8,387.2 370.8,397.2 365.8,399.2 365.3,396.2" fill="#dfe1e5" />
<ellipse cx="379.8" cy="371.5" rx="5.319999999999999" ry="6.16" fill="#f0b38b" />
<polygon points="365.0,408.0 372.0,404.8 381.0,409.0 374.0,412.5" fill="#2a2b30" />
<polygon points="387.0,435.3 430.0,456.2 430.0,468.7 387.0,447.8" fill="#f6c190" />
<polygon points="430.0,456.2 458.5,442.5 458.5,455.0 430.0,468.7" fill="#eea873" />
<polygon points="387.0,435.3 415.5,421.6 458.5,442.5 430.0,456.2" fill="#f9d0a2" />
<polygon points="405.3,411.0 423.5,419.2 423.5,439.2 405.3,431.0" fill="#1d1e22" />
<polygon points="406.7,413.0 422.1,420.0 422.1,436.3 406.7,429.4" fill="#1d1e22" />
<ellipse cx="414.6" cy="439.5" rx="7.5" ry="3.3" fill="#6c6f78" />
<polygon points="413.0,428.0 417.0,430.0 418.5,439.0 411.0,439.0" fill="#55585f" />
<polygon points="429.2,409.9 434.2,406.9 440.2,407.9 446.7,412.9 447.7,432.9 439.2,436.9 429.2,429.9" fill="#eceef1" />
<polygon points="440.2,407.9 446.7,412.9 447.7,432.9 442.2,435.4" fill="#c9ccd2" />
<polygon points="430.2,415.9 433.2,416.9 428.2,426.9 423.2,428.9 422.7,425.9" fill="#dfe1e5" />
<ellipse cx="437.2" cy="401.2" rx="5.319999999999999" ry="6.16" fill="#f0b38b" />
<polygon points="423.0,438.0 430.0,434.8 439.0,439.0 432.0,442.5" fill="#2a2b30" />
<polygon points="251.0,322.0 262.0,316.5 271.0,321.0 271.0,338.0 260.0,343.5 251.0,339.0" fill="#fbfcfc" stroke="#d3d7dc" stroke-width="0.5" />
<polygon points="244.0,322.0 256.0,312.5 259.0,313.5 262.0,318.0 258.0,320.0 256.0,317.0 246.0,325.0" fill="#f4f5f7" stroke="#b9bec5" stroke-width="0.5" />
<polygon points="258.0,314.0 262.0,313.0 264.0,319.0 260.0,321.0" fill="#3a3c45" />
<polygon points="242.0,322.5 245.0,321.0 246.5,324.5 243.5,326.0" fill="#2c2e35" />
<polygon points="225.5,342.0 240.5,334.5 237.5,329.5 222.5,338.0" fill="#f6d9a6" />
<polygon points="240.5,334.5 257.5,342.6 260.5,337.6 243.5,328.5" fill="#f3cf98" />
<polygon points="225.5,342.0 240.5,334.5 257.5,342.6 242.5,350.1" fill="#c98a4e" />
<polygon points="228.0,342.3 240.5,336.3 255.0,342.6 242.5,348.3" fill="#24252b" />
<polygon points="225.5,342.0 242.5,350.1 242.5,359.1 225.5,351.0" fill="#ecad72" />
<polygon points="242.5,350.1 257.5,342.6 257.5,351.6 242.5,359.1" fill="#dc9458" />
<polygon points="225.5,342.0 242.5,350.1 240.5,354.1 221.5,345.0" fill="#f8dcab" />
<polygon points="242.5,350.1 257.5,342.6 261.5,345.6 244.5,354.1" fill="#f2c88e" />
<polygon points="250.5,352.5 256.0,354.8 261.5,358.5 259.5,361.0 253.0,358.5 250.0,355.5" fill="#26272c" />
<polygon points="268.8,361.8 277.4,362.8 276.9,385.3 269.7,383.1" fill="#b9babd" />
<polygon points="277.4,362.8 285.1,361.8 283.8,386.3 277.4,387.4" fill="#8f9093" />
<polygon points="269.7,383.1 276.9,385.3 274.5,386.9 267.9,384.2" fill="#9a9a9a" />
<polygon points="277.4,387.4 283.8,386.3 286.9,385.0 281.6,384.0" fill="#5b5b5b" />
<polygon points="268.4,345.1 274.1,341.9 277.8,343.0 277.6,363.8 268.8,362.8" fill="#f0f1f3" />
<polygon points="277.8,343.0 284.3,345.1 285.6,362.8 277.6,363.8" fill="#d0d3d8" />
<ellipse cx="277.2" cy="336.8" rx="4.953846153846154" ry="6.030769230769231" fill="#f0b38b" />
<polygon points="270.0,350.0 273.0,352.0 264.0,358.5 261.0,357.0" fill="#e4e6ea" />
<polygon points="620.5,303.5 635.5,296.0 632.5,291.0 617.5,299.5" fill="#f6d9a6" />
<polygon points="635.5,296.0 652.5,304.1 655.5,299.1 638.5,290.0" fill="#f3cf98" />
<polygon points="620.5,303.5 635.5,296.0 652.5,304.1 637.5,311.6" fill="#c98a4e" />
<polygon points="623.0,303.8 635.5,297.8 650.0,304.1 637.5,309.8" fill="#24252b" />
<polygon points="620.5,303.5 637.5,311.6 637.5,320.6 620.5,312.5" fill="#ecad72" />
<polygon points="637.5,311.6 652.5,304.1 652.5,313.1 637.5,320.6" fill="#dc9458" />
<polygon points="620.5,303.5 637.5,311.6 635.5,315.6 616.5,306.5" fill="#f8dcab" />
<polygon points="637.5,311.6 652.5,304.1 656.5,307.1 639.5,315.6" fill="#f2c88e" />
<polygon points="640.5,283.5 646.0,281.5 648.0,283.0 648.0,293.0 643.0,295.0 640.5,293.5" fill="#2a2b30" />
<polygon points="641.5,284.5 646.5,282.7 646.5,286.0 641.5,288.0" fill="#f4f5f7" />
<polygon points="653.3,292.3 661.4,293.3 660.9,314.6 654.1,312.5" fill="#b9babd" />
<polygon points="661.4,293.3 668.7,292.3 667.5,315.6 661.4,316.6" fill="#8f9093" />
<polygon points="654.1,312.5 660.9,314.6 658.7,316.1 652.4,313.5" fill="#9a9a9a" />
<polygon points="661.4,316.6 667.5,315.6 670.4,314.4 665.4,313.3" fill="#5b5b5b" />
<polygon points="652.8,276.6 658.3,273.5 661.8,274.6 661.6,294.3 653.3,293.3" fill="#f0f1f3" />
<polygon points="661.8,274.6 667.9,276.6 669.1,293.3 661.6,294.3" fill="#d0d3d8" />
<ellipse cx="661.2" cy="268.7" rx="4.688461538461539" ry="5.707692307692308" fill="#f0b38b" />
<polygon points="654.5,281.0 657.0,283.0 649.0,289.0 647.0,287.5" fill="#e4e6ea" />
<polygon points="681.6,343.0 709.6,356.3 709.6,362.3 681.6,349.0" fill="#f3f4f6" />
<polygon points="709.6,356.3 731.1,345.6 731.1,351.6 709.6,362.3" fill="#dfe2e6" />
<polygon points="681.6,343.0 703.1,332.2 731.1,345.6 709.6,356.3" fill="#ffffff" />
<polygon points="688.0,351.5 694.0,354.3 694.0,357.3 688.0,354.5" fill="#26272c" />
<polygon points="701.0,357.8 708.0,361.1 708.0,364.1 701.0,360.8" fill="#26272c" />
<polygon points="687.6,336.5 699.1,341.9 699.1,351.9 687.6,346.5" fill="#ecad72" stroke="#c27f45" stroke-width="0.5" />
<polygon points="699.1,341.9 711.1,336.1 711.1,346.1 699.1,351.9" fill="#dc9458" stroke="#c27f45" stroke-width="0.5" />
<polygon points="687.6,336.5 699.1,341.9 699.1,343.9 687.6,338.5" fill="#f3c288" />
<polygon points="699.1,341.9 711.1,336.1 711.1,338.1 699.1,343.9" fill="#e8ab6b" />
<polyline points="687.6,338.5 699.1,343.9 711.1,338.1" fill="none" stroke="#cd8a50" stroke-width="0.45" />
<polygon points="687.6,336.5 699.6,330.7 711.1,336.1 699.1,341.9" fill="#fbe0a0" stroke="#e0a965" stroke-width="0.45" />
<polygon points="702.5,344.5 707.5,342.1 707.5,344.9 702.5,347.3" fill="#f7d590" />
<polyline points="693.4,339.2 705.4,333.4" fill="none" stroke="#f0c67c" stroke-width="1.1" />
<polygon points="699.1,341.9 702.1,340.5 702.1,343.3 699.1,344.7" fill="#c98549" />
<polygon points="687.6,326.5 699.1,331.9 699.1,341.9 687.6,336.5" fill="#ecad72" stroke="#c27f45" stroke-width="0.5" />
<polygon points="699.1,331.9 711.1,326.1 711.1,336.1 699.1,341.9" fill="#dc9458" stroke="#c27f45" stroke-width="0.5" />
<polygon points="687.6,326.5 699.1,331.9 699.1,333.9 687.6,328.5" fill="#f3c288" />
<polygon points="699.1,331.9 711.1,326.1 711.1,328.1 699.1,333.9" fill="#e8ab6b" />
<polyline points="687.6,328.5 699.1,333.9 711.1,328.1" fill="none" stroke="#cd8a50" stroke-width="0.45" />
<polygon points="687.6,326.5 699.6,320.7 711.1,326.1 699.1,331.9" fill="#fbe0a0" stroke="#e0a965" stroke-width="0.45" />
<polygon points="702.5,334.5 707.5,332.1 707.5,334.9 702.5,337.3" fill="#f7d590" />
<polyline points="693.4,329.2 705.4,323.4" fill="none" stroke="#f0c67c" stroke-width="1.1" />
<polygon points="699.1,331.9 702.1,330.5 702.1,333.3 699.1,334.7" fill="#c98549" />
<polygon points="700.8,343.8 712.8,349.4 712.8,359.4 700.8,353.8" fill="#ecad72" stroke="#c27f45" stroke-width="0.5" />
<polygon points="712.8,349.4 724.8,343.7 724.8,353.7 712.8,359.4" fill="#dc9458" stroke="#c27f45" stroke-width="0.5" />
<polygon points="700.8,343.8 712.8,349.4 712.8,351.4 700.8,345.8" fill="#f3c288" />
<polygon points="712.8,349.4 724.8,343.7 724.8,345.7 712.8,351.4" fill="#e8ab6b" />
<polyline points="700.8,345.8 712.8,351.4 724.8,345.7" fill="none" stroke="#cd8a50" stroke-width="0.45" />
<polygon points="700.8,343.8 712.8,338.0 724.8,343.7 712.8,349.4" fill="#fbe0a0" stroke="#e0a965" stroke-width="0.45" />
<polygon points="716.2,352.0 721.2,349.6 721.2,352.4 716.2,354.8" fill="#f7d590" />
<polyline points="706.8,346.6 718.8,340.9" fill="none" stroke="#f0c67c" stroke-width="1.1" />
<polygon points="712.8,349.4 715.8,348.0 715.8,350.8 712.8,352.2" fill="#c98549" />
<polygon points="734.4,331.2 741.9,332.2 741.4,351.9 735.1,350.0" fill="#b9babd" />
<polygon points="741.9,332.2 748.7,331.2 747.5,352.8 741.9,353.8" fill="#8f9093" />
<polygon points="735.1,350.0 741.4,351.9 739.3,353.3 733.6,351.0" fill="#9a9a9a" />
<polygon points="741.9,353.8 747.5,352.8 750.2,351.7 745.6,350.8" fill="#5b5b5b" />
<polygon points="734.0,316.8 739.0,314.0 742.3,314.9 742.1,333.2 734.4,332.2" fill="#f0f1f3" />
<polygon points="742.3,314.9 747.9,316.8 749.0,332.2 742.1,333.2" fill="#d0d3d8" />
<ellipse cx="741.7" cy="309.5" rx="4.334615384615385" ry="5.276923076923078" fill="#f0b38b" />
<polygon points="734.5,322.0 737.0,324.0 727.0,329.0 725.5,327.0" fill="#e4e6ea" />
<polygon points="717.0,323.0 720.0,321.8 727.0,326.5 724.0,328.3" fill="#26272c" />
<polygon points="191.0,403.2 205.5,410.1 205.5,414.9 191.0,408.0" fill="#f3f4f6" />
<polygon points="205.5,410.1 243.5,391.1 243.5,395.9 205.5,414.9" fill="#dfe2e6" />
<polygon points="191.0,403.2 229.0,384.2 243.5,391.1 205.5,410.1" fill="#ffffff" />
<polygon points="209.4,385.5 219.4,390.2 219.4,399.2 209.4,394.5" fill="#ecad72" stroke="#c27f45" stroke-width="0.5" />
<polygon points="219.4,390.2 229.4,385.4 229.4,394.4 219.4,399.2" fill="#dc9458" stroke="#c27f45" stroke-width="0.5" />
<polygon points="209.4,385.5 219.4,390.2 219.4,392.0 209.4,387.3" fill="#f3c288" />
<polygon points="219.4,390.2 229.4,385.4 229.4,387.2 219.4,392.0" fill="#e8ab6b" />
<polyline points="209.4,387.3 219.4,392.0 229.4,387.2" fill="none" stroke="#cd8a50" stroke-width="0.45" />
<polygon points="209.4,385.5 219.4,380.7 229.4,385.4 219.4,390.2" fill="#fbe0a0" stroke="#e0a965" stroke-width="0.45" />
<polygon points="222.2,392.6 226.4,390.6 226.4,393.1 222.2,395.2" fill="#f7d590" />
<polyline points="214.4,387.9 224.4,383.0" fill="none" stroke="#f0c67c" stroke-width="1.1" />
<polygon points="219.4,390.2 222.4,388.8 222.4,391.4 219.4,392.8" fill="#c98549" />
<polygon points="198.2,394.0 208.2,398.7 208.2,407.7 198.2,403.0" fill="#ecad72" stroke="#c27f45" stroke-width="0.5" />
<polygon points="208.2,398.7 218.2,393.9 218.2,402.9 208.2,407.7" fill="#dc9458" stroke="#c27f45" stroke-width="0.5" />
<polygon points="198.2,394.0 208.2,398.7 208.2,400.5 198.2,395.8" fill="#f3c288" />
<polygon points="208.2,398.7 218.2,393.9 218.2,395.7 208.2,400.5" fill="#e8ab6b" />
<polyline points="198.2,395.8 208.2,400.5 218.2,395.7" fill="none" stroke="#cd8a50" stroke-width="0.45" />
<polygon points="198.2,394.0 208.2,389.2 218.2,393.9 208.2,398.7" fill="#fbe0a0" stroke="#e0a965" stroke-width="0.45" />
<polygon points="211.0,401.1 215.2,399.1 215.2,401.6 211.0,403.7" fill="#f7d590" />
<polyline points="203.2,396.4 213.2,391.5" fill="none" stroke="#f0c67c" stroke-width="1.1" />
<polygon points="208.2,398.7 211.2,397.3 211.2,399.9 208.2,401.3" fill="#c98549" />
<polygon points="227.2,396.7 232.6,394.0 231.2,391.9 240.7,389.9 237.3,396.7 235.2,394.9 229.8,398.2" fill="#1c1d21" />
<polygon points="208.2,409.3 213.7,406.6 212.3,404.5 221.8,402.5 218.4,409.3 216.3,407.5 210.9,410.8" fill="#1c1d21" />
<polygon points="63.9,371.0 94.5,357.2 104.0,362.0 78.3,374.3" fill="#21985a" />
<path d="M63.9 371 L78.3 374.3 L78.3 408 L58 399 Q54.4 397.3 54.4 394 L54.4 388 Q54.6 383.5 58.5 384 L72.9 389 L72.9 381 L63.9 377 Z" fill="#1d8f50"/>
<polygon points="78.3,374.3 128.0,398.0 128.0,439.0 78.3,408.0" fill="#1f8b4d" />
<polygon points="78.3,374.3 104.0,362.0 158.0,386.0 128.0,398.0" fill="#3fae82" />
<polyline points="80.5,374.2 104.5,363.2 156.0,386.2" fill="none" stroke="#a6dfc6" stroke-width="0.7" />
<polygon points="128.0,398.0 158.0,386.0 158.0,424.5 128.0,439.0" fill="#177a43" />
<polygon points="128.0,432.0 158.0,418.0 158.0,424.5 128.0,439.0" fill="#2a9d63" />
<polygon points="137.0,407.0 145.0,410.8 145.0,419.3 137.0,415.5" fill="#ecad72" stroke="#c27f45" stroke-width="0.5" />
<polygon points="145.0,410.8 153.5,406.7 153.5,415.2 145.0,419.3" fill="#dc9458" stroke="#c27f45" stroke-width="0.5" />
<polygon points="137.0,407.0 145.0,410.8 145.0,412.5 137.0,408.7" fill="#f3c288" />
<polygon points="145.0,410.8 153.5,406.7 153.5,408.4 145.0,412.5" fill="#e8ab6b" />
<polyline points="137.0,408.7 145.0,412.5 153.5,408.4" fill="none" stroke="#cd8a50" stroke-width="0.45" />
<polygon points="137.0,407.0 145.5,402.9 153.5,406.7 145.0,410.8" fill="#fbe0a0" stroke="#e0a965" stroke-width="0.45" />
<polygon points="147.4,413.2 150.9,411.5 150.9,413.9 147.4,415.6" fill="#f7d590" />
<polyline points="141.0,408.9 149.5,404.8" fill="none" stroke="#f0c67c" stroke-width="1.1" />
<polygon points="145.0,410.8 148.0,409.3 148.0,411.8 145.0,413.3" fill="#c98549" />
<polygon points="131.0,414.0 139.0,417.8 139.0,426.3 131.0,422.5" fill="#ecad72" stroke="#c27f45" stroke-width="0.5" />
<polygon points="139.0,417.8 147.5,413.7 147.5,422.2 139.0,426.3" fill="#dc9458" stroke="#c27f45" stroke-width="0.5" />
<polygon points="131.0,414.0 139.0,417.8 139.0,419.5 131.0,415.7" fill="#f3c288" />
<polygon points="139.0,417.8 147.5,413.7 147.5,415.4 139.0,419.5" fill="#e8ab6b" />
<polyline points="131.0,415.7 139.0,419.5 147.5,415.4" fill="none" stroke="#cd8a50" stroke-width="0.45" />
<polygon points="131.0,414.0 139.5,409.9 147.5,413.7 139.0,417.8" fill="#fbe0a0" stroke="#e0a965" stroke-width="0.45" />
<polygon points="141.4,420.2 144.9,418.5 144.9,420.9 141.4,422.6" fill="#f7d590" />
<polyline points="135.0,415.9 143.5,411.8" fill="none" stroke="#f0c67c" stroke-width="1.1" />
<polygon points="139.0,417.8 142.0,416.3 142.0,418.8 139.0,420.3" fill="#c98549" />
<polygon points="139.5,418.5 147.5,422.3 147.5,430.8 139.5,427.0" fill="#ecad72" stroke="#c27f45" stroke-width="0.5" />
<polygon points="147.5,422.3 156.0,418.2 156.0,426.7 147.5,430.8" fill="#dc9458" stroke="#c27f45" stroke-width="0.5" />
<polygon points="139.5,418.5 147.5,422.3 147.5,424.0 139.5,420.2" fill="#f3c288" />
<polygon points="147.5,422.3 156.0,418.2 156.0,419.9 147.5,424.0" fill="#e8ab6b" />
<polyline points="139.5,420.2 147.5,424.0 156.0,419.9" fill="none" stroke="#cd8a50" stroke-width="0.45" />
<polygon points="139.5,418.5 148.0,414.4 156.0,418.2 147.5,422.3" fill="#fbe0a0" stroke="#e0a965" stroke-width="0.45" />
<polygon points="149.9,424.7 153.4,423.0 153.4,425.4 149.9,427.1" fill="#f7d590" />
<polyline points="143.5,420.4 152.0,416.3" fill="none" stroke="#f0c67c" stroke-width="1.1" />
<polygon points="147.5,422.3 150.5,420.8 150.5,423.3 147.5,424.8" fill="#c98549" />
<polygon points="131.0,423.5 139.0,427.3 139.0,435.8 131.0,432.0" fill="#ecad72" stroke="#c27f45" stroke-width="0.5" />
<polygon points="139.0,427.3 147.5,423.2 147.5,431.7 139.0,435.8" fill="#dc9458" stroke="#c27f45" stroke-width="0.5" />
<polygon points="131.0,423.5 139.0,427.3 139.0,429.0 131.0,425.2" fill="#f3c288" />
<polygon points="139.0,427.3 147.5,423.2 147.5,424.9 139.0,429.0" fill="#e8ab6b" />
<polyline points="131.0,425.2 139.0,429.0 147.5,424.9" fill="none" stroke="#cd8a50" stroke-width="0.45" />
<polygon points="131.0,423.5 139.5,419.4 147.5,423.2 139.0,427.3" fill="#fbe0a0" stroke="#e0a965" stroke-width="0.45" />
<polygon points="141.4,429.7 144.9,428.0 144.9,430.4 141.4,432.1" fill="#f7d590" />
<polyline points="135.0,425.4 143.5,421.3" fill="none" stroke="#f0c67c" stroke-width="1.1" />
<polygon points="139.0,427.3 142.0,425.8 142.0,428.3 139.0,429.8" fill="#c98549" />
<polygon points="119.6,403.6 128.0,399.0 128.0,439.5 119.6,443.5" fill="#45b68c" />
<polygon points="157.0,386.2 165.6,382.0 165.6,420.0 157.0,424.5" fill="#45b68c" />
<ellipse cx="68.8" cy="407.2" rx="7.344" ry="6.84" fill="#2a2b2f" />
<ellipse cx="68.8" cy="407.2" rx="4.032000000000001" ry="3.6" fill="#f1f2f4" />
<ellipse cx="108.9" cy="429.2" rx="7.344" ry="6.84" fill="#2a2b2f" />
<ellipse cx="108.9" cy="429.2" rx="4.032000000000001" ry="3.6" fill="#f1f2f4" />
<text x="0" y="0" font-size="21.6" font-weight="bold" fill="#ffffff" stroke="#ffffff" stroke-width="0.5" transform="translate(81.2,404.8) skewY(23) scale(0.79,1)">EMS</text>
<polygon points="832.5,304.3 838.0,302.0 864.4,314.8 852.3,318.8" fill="#21985a" />
<path d="M852.3 318.8 L864.4 314.8 L864.4 322.8 L859 325 L859 333.5 L873.5 327.8 Q877.4 327 877.6 331 L877.6 339 Q877.6 342 874 343.7 L852.3 356.5 Z" fill="#1d8f50"/>
<polygon points="765.0,327.0 774.6,331.8 774.6,371.4 765.0,366.0" fill="#45b68c" />
<polygon points="774.6,331.8 804.0,344.5 804.0,382.4 774.6,370.3" fill="#177a43" />
<polygon points="774.6,363.5 804.0,376.0 804.0,382.4 774.6,370.3" fill="#2a9d63" />
<polygon points="784.5,345.5 792.5,349.3 792.5,357.8 784.5,354.0" fill="#ecad72" stroke="#c27f45" stroke-width="0.5" />
<polygon points="792.5,349.3 801.0,345.2 801.0,353.7 792.5,357.8" fill="#dc9458" stroke="#c27f45" stroke-width="0.5" />
<polygon points="784.5,345.5 792.5,349.3 792.5,351.0 784.5,347.2" fill="#f3c288" />
<polygon points="792.5,349.3 801.0,345.2 801.0,346.9 792.5,351.0" fill="#e8ab6b" />
<polyline points="784.5,347.2 792.5,351.0 801.0,346.9" fill="none" stroke="#cd8a50" stroke-width="0.45" />
<polygon points="784.5,345.5 793.0,341.4 801.0,345.2 792.5,349.3" fill="#fbe0a0" stroke="#e0a965" stroke-width="0.45" />
<polygon points="794.9,351.7 798.5,350.0 798.5,352.4 794.9,354.1" fill="#f7d590" />
<polyline points="788.5,347.4 797.0,343.3" fill="none" stroke="#f0c67c" stroke-width="1.1" />
<polygon points="792.5,349.3 795.5,347.8 795.5,350.3 792.5,351.8" fill="#c98549" />
<polygon points="781.0,352.0 789.0,355.8 789.0,364.3 781.0,360.5" fill="#ecad72" stroke="#c27f45" stroke-width="0.5" />
<polygon points="789.0,355.8 797.5,351.7 797.5,360.2 789.0,364.3" fill="#dc9458" stroke="#c27f45" stroke-width="0.5" />
<polygon points="781.0,352.0 789.0,355.8 789.0,357.5 781.0,353.7" fill="#f3c288" />
<polygon points="789.0,355.8 797.5,351.7 797.5,353.4 789.0,357.5" fill="#e8ab6b" />
<polyline points="781.0,353.7 789.0,357.5 797.5,353.4" fill="none" stroke="#cd8a50" stroke-width="0.45" />
<polygon points="781.0,352.0 789.5,347.9 797.5,351.7 789.0,355.8" fill="#fbe0a0" stroke="#e0a965" stroke-width="0.45" />
<polygon points="791.4,358.2 795.0,356.5 795.0,358.9 791.4,360.6" fill="#f7d590" />
<polyline points="785.0,353.9 793.5,349.8" fill="none" stroke="#f0c67c" stroke-width="1.1" />
<polygon points="789.0,355.8 792.0,354.3 792.0,356.8 789.0,358.3" fill="#c98549" />
<polygon points="775.5,357.5 783.5,361.3 783.5,369.8 775.5,366.0" fill="#ecad72" stroke="#c27f45" stroke-width="0.5" />
<polygon points="783.5,361.3 792.0,357.2 792.0,365.7 783.5,369.8" fill="#dc9458" stroke="#c27f45" stroke-width="0.5" />
<polygon points="775.5,357.5 783.5,361.3 783.5,363.0 775.5,359.2" fill="#f3c288" />
<polygon points="783.5,361.3 792.0,357.2 792.0,358.9 783.5,363.0" fill="#e8ab6b" />
<polyline points="775.5,359.2 783.5,363.0 792.0,358.9" fill="none" stroke="#cd8a50" stroke-width="0.45" />
<polygon points="775.5,357.5 784.0,353.4 792.0,357.2 783.5,361.3" fill="#fbe0a0" stroke="#e0a965" stroke-width="0.45" />
<polygon points="785.9,363.7 789.5,362.0 789.5,364.4 785.9,366.1" fill="#f7d590" />
<polyline points="779.5,359.4 788.0,355.3" fill="none" stroke="#f0c67c" stroke-width="1.1" />
<polygon points="783.5,361.3 786.5,359.8 786.5,362.3 783.5,363.8" fill="#c98549" />
<polygon points="789.0,359.0 797.0,362.8 797.0,371.3 789.0,367.5" fill="#ecad72" stroke="#c27f45" stroke-width="0.5" />
<polygon points="797.0,362.8 805.5,358.7 805.5,367.2 797.0,371.3" fill="#dc9458" stroke="#c27f45" stroke-width="0.5" />
<polygon points="789.0,359.0 797.0,362.8 797.0,364.5 789.0,360.7" fill="#f3c288" />
<polygon points="797.0,362.8 805.5,358.7 805.5,360.4 797.0,364.5" fill="#e8ab6b" />
<polyline points="789.0,360.7 797.0,364.5 805.5,360.4" fill="none" stroke="#cd8a50" stroke-width="0.45" />
<polygon points="789.0,359.0 797.5,354.9 805.5,358.7 797.0,362.8" fill="#fbe0a0" stroke="#e0a965" stroke-width="0.45" />
<polygon points="799.4,365.2 803.0,363.5 803.0,365.9 799.4,367.6" fill="#f7d590" />
<polyline points="793.0,360.9 801.5,356.8" fill="none" stroke="#f0c67c" stroke-width="1.1" />
<polygon points="797.0,362.8 800.0,361.3 800.0,363.8 797.0,365.3" fill="#c98549" />
<polygon points="774.6,331.4 832.5,304.3 853.4,316.4 804.0,344.5" fill="#3fae82" />
<polyline points="776.5,331.3 832.5,305.3 851.5,316.6" fill="none" stroke="#a6dfc6" stroke-width="0.7" />
<polygon points="804.0,344.5 852.3,318.8 852.3,356.5 804.0,382.4" fill="#1f8b4d" />
<polygon points="804.0,344.5 812.7,348.3 812.7,389.0 804.0,382.4" fill="#45b68c" />
<ellipse cx="822.2" cy="374.7" rx="7.344" ry="6.84" fill="#2a2b2f" />
<ellipse cx="822.2" cy="374.7" rx="4.032000000000001" ry="3.6" fill="#f1f2f4" />
<ellipse cx="863.3" cy="353.8" rx="7.344" ry="6.84" fill="#2a2b2f" />
<ellipse cx="863.3" cy="353.8" rx="4.032000000000001" ry="3.6" fill="#f1f2f4" />
<text x="0" y="0" font-size="21.3" font-weight="bold" fill="#ffffff" stroke="#ffffff" stroke-width="0.5" transform="translate(810.6,368.7) skewY(-21) scale(0.795,1)">EMS</text>
<rect x="255.6" y="122.2" width="76.0" height="37.6" fill="#fdfdfd" stroke="#56585e" stroke-width="1.3"/>
<polyline points="256.0,132.3 331.5,132.3" fill="none" stroke="#d5d8dc" stroke-width="0.5" />
<polyline points="256.0,146.6 331.5,146.6" fill="none" stroke="#d5d8dc" stroke-width="0.5" />
<polyline points="293.4,122.3 293.4,132.3" fill="none" stroke="#b9bdc3" stroke-width="0.6" />
<rect x="295.5" y="128.8" width="1.7" height="3.0" fill="#c9b36a" opacity="0.85"/>
<rect x="298.6" y="127.3" width="1.7" height="4.5" fill="#b8a85a" opacity="0.85"/>
<rect x="301.7" y="129.3" width="1.7" height="2.5" fill="#c7965a" opacity="0.85"/>
<rect x="304.8" y="125.8" width="1.7" height="6.0" fill="#b9c46a" opacity="0.85"/>
<rect x="307.9" y="127.8" width="1.7" height="4.0" fill="#a8b05a" opacity="0.85"/>
<rect x="311.0" y="126.8" width="1.7" height="5.0" fill="#c9b05a" opacity="0.85"/>
<rect x="314.1" y="124.3" width="1.7" height="7.5" fill="#d9a55a" opacity="0.85"/>
<rect x="317.2" y="126.8" width="1.7" height="5.0" fill="#b59a4a" opacity="0.85"/>
<rect x="320.3" y="128.3" width="1.7" height="3.5" fill="#c7965a" opacity="0.85"/>
<rect x="323.4" y="125.3" width="1.7" height="6.5" fill="#c9c96a" opacity="0.85"/>
<rect x="326.5" y="127.8" width="1.7" height="4.0" fill="#b8b85a" opacity="0.85"/>
<rect x="281.5" y="136.0" width="3.5" height="2.1" fill="#3fae4a" rx="1"/>
<rect x="277.5" y="140.8" width="12.0" height="2.1" fill="#2f9a3c" rx="1"/>
<rect x="277.5" y="154.2" width="11.0" height="2.1" fill="#2f9a3c" rx="1"/>
<rect x="296.0" y="141.4" width="6.0" height="2.1" fill="#9aa3ab" rx="1"/>
<rect x="304.0" y="141.4" width="2.5" height="2.1" fill="#b9c0c6" rx="1"/>
<rect x="313.0" y="141.4" width="6.0" height="2.1" fill="#9aa3ab" rx="1"/>
<rect x="321.0" y="141.4" width="2.5" height="2.1" fill="#b9c0c6" rx="1"/>
<rect x="296.0" y="154.6" width="6.0" height="2.1" fill="#9aa3ab" rx="1"/>
<rect x="304.0" y="154.6" width="2.5" height="2.1" fill="#b9c0c6" rx="1"/>
<rect x="313.0" y="154.6" width="6.0" height="2.1" fill="#9aa3ab" rx="1"/>
<rect x="321.0" y="154.6" width="2.5" height="2.1" fill="#b9c0c6" rx="1"/>
<polygon points="280.6,152.6 285.5,148.8 286.8,153.6" fill="#e02f2f" />
<rect x="286.5" y="148.6" width="13.5" height="4.8" fill="#f4ef2e" rx="1.5"/>
<rect x="276.5" y="137.0" width="1.2" height="1.2" fill="#5f646b" />
<rect x="276.5" y="150.6" width="1.2" height="1.2" fill="#5f646b" />
<rect x="326.5" y="137.0" width="1.2" height="1.2" fill="#5f646b" />
<rect x="326.5" y="150.6" width="1.2" height="1.2" fill="#5f646b" />
<rect x="154.0" y="183.1" width="81.0" height="40.3" fill="#f8f9fb" stroke="#e9ecef" stroke-width="0.6"/>
<rect x="154.0" y="183.1" width="81.0" height="2.6" fill="#3f7ea3" />
<rect x="200.6" y="188.4" width="29.5" height="1.8" fill="#62bd5a" rx="0.9"/>
<rect x="162.0" y="188.6" width="18.0" height="1.4" fill="#d6ecd3" rx="0.7"/>
<rect x="156.3" y="198.6" width="36.3" height="1.8" fill="#62bd5a" rx="0.9"/>
<rect x="200.6" y="198.6" width="30.0" height="1.8" fill="#62bd5a" rx="0.9"/>
<rect x="159.0" y="192.5" width="20.0" height="0.8" fill="#e6e9ed" />
<rect x="203.0" y="192.5" width="14.0" height="0.8" fill="#e6e9ed" />
<rect x="159.0" y="203.0" width="24.0" height="0.8" fill="#e6e9ed" />
<rect x="203.0" y="203.0" width="22.0" height="0.8" fill="#e6e9ed" />
<rect x="162.0" y="210.0" width="8.0" height="0.8" fill="#e6e9ed" />
<rect x="176.0" y="210.0" width="8.0" height="0.8" fill="#e6e9ed" />
<ellipse cx="158.6" cy="220.9" rx="1.9" ry="1.3" fill="#4a4f57" />
<ellipse cx="165.7" cy="220.9" rx="1.9" ry="1.3" fill="#d9a58a" />
<ellipse cx="172.8" cy="220.9" rx="1.9" ry="1.3" fill="#6aa85a" />
<g fill="none" stroke-width="0.45" stroke="#d3d7dc">
<path d="M104 248v8M113 248v8M143.2 249v40M144.6 249v40M150 249v40M118 275.4h32M118 288.6h32M98 271h20M122 249v26M128 275v14"/>
</g>
<path d="M118 256.8 L124 267 L134.8 261.6" fill="none" stroke="#b9bec5" stroke-width="0.6"/>
<path d="M91.6 279.6 C 98 268, 106 252.5, 115.6 250.8 C 122 249.6, 131.5 250.2, 137.8 258.6" fill="none" stroke="#56bb5e" stroke-width="1.2"/>
<path d="M97.6 288.3 C 104 286.2, 120 286.6, 141 286.6" fill="none" stroke="#ea6b3c" stroke-width="1.2"/>
<rect x="141.4" y="267.6" width="1.7" height="8.6" fill="#d4262c" />
<rect x="140.2" y="251.4" width="3.6" height="1.6" fill="#2b2d31" />
<circle cx="142.0" cy="285.8" r="1.1" fill="#e0302c" />
<rect x="85.0" y="280.6" width="6.6" height="2.3" fill="#1d1f22" rx="1.1"/>
<rect x="88.0" y="285.0" width="6.6" height="2.3" fill="#2f7d33" rx="1.1"/>
<rect x="89.8" y="289.0" width="6.6" height="2.3" fill="#5a2f1c" rx="1.1"/>
<rect x="120.4" y="280.2" width="7.2" height="1.6" fill="#4a4d52" />
<rect x="137.8" y="279.8" width="3.0" height="1.6" fill="#2b2d31" />
<rect x="100.0" y="281.0" width="9.0" height="0.8" fill="#c9ced4" />
<rect x="372.0" y="108.0" width="79.0" height="50.0" fill="#f7f8fa" opacity="0.7"/>
<rect x="383.2" y="122.3" width="2.5" height="3.2" fill="#2c5a78" />
<rect x="386.9" y="122.3" width="2.5" height="3.2" fill="#2c5a78" />
<rect x="390.6" y="122.3" width="2.5" height="3.2" fill="#2c5a78" />
<rect x="394.3" y="122.3" width="2.5" height="3.2" fill="#2c5a78" />
<rect x="383.2" y="136.6" width="2.5" height="3.2" fill="#f09a36" />
<rect x="386.9" y="136.6" width="2.5" height="3.2" fill="#f09a36" />
<rect x="390.6" y="136.6" width="2.5" height="3.2" fill="#f09a36" />
<rect x="394.3" y="136.6" width="2.5" height="3.2" fill="#f09a36" />
<rect x="383.2" y="149.0" width="2.5" height="3.2" fill="#4a5058" />
<rect x="386.9" y="149.0" width="2.5" height="3.2" fill="#4a5058" />
<rect x="390.6" y="149.0" width="2.5" height="3.2" fill="#4a5058" />
<rect x="394.3" y="149.0" width="2.5" height="3.2" fill="#4a5058" />
<rect x="424.2" y="148.6" width="2.0" height="3.6" fill="#3c4650" />
<rect x="427.1" y="148.6" width="2.0" height="3.6" fill="#3c4650" />
<rect x="430.0" y="148.6" width="2.0" height="3.6" fill="#3c4650" />
<rect x="432.9" y="148.6" width="2.0" height="3.6" fill="#3c4650" />
<polygon points="417.7,122.0 421.0,122.2 423.5,124.7 420.0,124.4" fill="#7d8289" />
<rect x="402.0" y="118.5" width="9.0" height="0.7" fill="#e4e7eb" />
<rect x="402.0" y="132.5" width="9.0" height="0.7" fill="#e4e7eb" />
<rect x="402.0" y="145.5" width="9.0" height="0.7" fill="#e4e7eb" />
<rect x="544.0" y="86.0" width="68.0" height="27.0" fill="#f8f9fb" opacity="0.8"/>
<circle cx="558.4" cy="95.8" r="4.8" fill="none" stroke="#8f8287" stroke-width="1" stroke-dasharray="9 3"/>
<circle cx="558.4" cy="95.8" r="2.6" fill="none" stroke="#edd2d2" stroke-width="0.8"/>
<circle cx="582.5" cy="96.3" r="0.8" fill="#aab0b8" />
<circle cx="585.9" cy="96.3" r="0.8" fill="#aab0b8" />
<circle cx="589.3" cy="96.3" r="0.8" fill="#aab0b8" />
<circle cx="592.7" cy="96.3" r="0.8" fill="#aab0b8" />
<circle cx="596.1" cy="96.3" r="0.8" fill="#aab0b8" />
<circle cx="599.5" cy="96.3" r="0.8" fill="#aab0b8" />
<circle cx="602.9" cy="96.3" r="0.8" fill="#aab0b8" />
<polyline points="548.0,87.3 566.0,87.3" fill="none" stroke="#dfe3e7" stroke-width="0.6" />
<polyline points="586.0,87.3 602.0,87.3" fill="none" stroke="#dfe3e7" stroke-width="0.6" />
<polyline points="552.0,104.5 566.0,104.5" fill="none" stroke="#dde1e5" stroke-width="0.6" />
<polyline points="585.0,104.5 600.0,104.5" fill="none" stroke="#dde1e5" stroke-width="0.6" />
<polyline points="545.0,108.5 558.0,108.5" fill="none" stroke="#f0dcdc" stroke-width="0.6" />
<rect x="653.0" y="118.0" width="1.8" height="6.5" fill="#4b4a68" />
<rect x="654.3" y="103.0" width="1.8" height="21.5" fill="#a83c46" />
<rect x="656.2" y="116.5" width="1.8" height="8.0" fill="#a99a44" />
<rect x="663.4" y="123.5" width="1.8" height="1.0" fill="#4b4a68" />
<rect x="664.6" y="117.5" width="1.8" height="7.0" fill="#b0703a" />
<rect x="666.3" y="110.5" width="1.8" height="14.0" fill="#a99a44" />
<rect x="673.0" y="105.5" width="1.8" height="19.0" fill="#4b4a68" />
<rect x="674.9" y="89.5" width="1.8" height="35.0" fill="#a83c46" />
<rect x="676.7" y="111.5" width="1.8" height="13.0" fill="#a99a44" />
<rect x="683.2" y="110.5" width="1.8" height="14.0" fill="#4b4a68" />
<rect x="685.1" y="92.0" width="1.8" height="32.5" fill="#a83c46" />
<rect x="686.9" y="106.0" width="1.8" height="18.5" fill="#a99a44" />
<rect x="688.6" y="110.5" width="1.8" height="14.0" fill="#4b4a68" />
<rect x="694.5" y="123.5" width="1.8" height="1.0" fill="#4b4a68" />
<rect x="695.9" y="109.0" width="1.8" height="15.5" fill="#b0703a" />
<rect x="697.4" y="103.0" width="1.8" height="21.5" fill="#a99a44" />
<rect x="698.9" y="118.0" width="1.8" height="6.5" fill="#4b4a68" />
<ellipse cx="706.5" cy="123.8" rx="2" ry="0.9" fill="#3d3c55" />
<rect x="704.0" y="86.5" width="7.0" height="7.0" fill="#f3f4f6" stroke="#dcdfe4" stroke-width="0.4"/>
<rect x="704.2" y="87.0" width="1.3" height="2.4" fill="#4b4a68" />
<rect x="704.2" y="90.3" width="1.3" height="2.6" fill="#6a5560" />
<rect x="748.6" y="133.0" width="67.5" height="43.0" fill="#f8f9fb" opacity="0.85"/>
<rect x="749.3" y="159.2" width="18.7" height="16.7" fill="#e4edf6" />
<polyline points="752.3,159.2 752.3,175.9" fill="none" stroke="#f4f7fa" stroke-width="0.6" />
<polyline points="755.4,159.2 755.4,175.9" fill="none" stroke="#f4f7fa" stroke-width="0.6" />
<polyline points="758.5,159.2 758.5,175.9" fill="none" stroke="#f4f7fa" stroke-width="0.6" />
<polyline points="761.6,159.2 761.6,175.9" fill="none" stroke="#f4f7fa" stroke-width="0.6" />
<polyline points="764.7,159.2 764.7,175.9" fill="none" stroke="#f4f7fa" stroke-width="0.6" />
<polyline points="767.8,159.2 767.8,175.9" fill="none" stroke="#f4f7fa" stroke-width="0.6" />
<rect x="768.0" y="160.2" width="14.0" height="15.7" fill="#f1f6e6" />
<rect x="782.0" y="158.9" width="23.0" height="17.0" fill="#b4dcbe" />
<polyline points="784.6,158.9 784.6,175.9" fill="none" stroke="#cfe9d4" stroke-width="0.6" />
<polyline points="787.2,158.9 787.2,175.9" fill="none" stroke="#cfe9d4" stroke-width="0.6" />
<polyline points="789.8,158.9 789.8,175.9" fill="none" stroke="#cfe9d4" stroke-width="0.6" />
<polyline points="792.4,158.9 792.4,175.9" fill="none" stroke="#cfe9d4" stroke-width="0.6" />
<polyline points="795.0,158.9 795.0,175.9" fill="none" stroke="#cfe9d4" stroke-width="0.6" />
<polyline points="797.6,158.9 797.6,175.9" fill="none" stroke="#cfe9d4" stroke-width="0.6" />
<polyline points="800.2,158.9 800.2,175.9" fill="none" stroke="#cfe9d4" stroke-width="0.6" />
<polyline points="802.8,158.9 802.8,175.9" fill="none" stroke="#cfe9d4" stroke-width="0.6" />
<circle cx="751.0" cy="158.3" r="0.55" fill="#6f7780" />
<circle cx="754.2" cy="158.3" r="0.55" fill="#6f7780" />
<circle cx="757.5" cy="158.3" r="0.55" fill="#6f7780" />
<circle cx="760.8" cy="158.3" r="0.55" fill="#6f7780" />
<circle cx="764.0" cy="158.3" r="0.55" fill="#6f7780" />
<circle cx="767.2" cy="158.3" r="0.55" fill="#6f7780" />
<circle cx="770.5" cy="158.3" r="0.55" fill="#6f7780" />
<circle cx="773.8" cy="158.3" r="0.55" fill="#6f7780" />
<circle cx="777.0" cy="158.3" r="0.55" fill="#6f7780" />
<circle cx="780.2" cy="158.3" r="0.55" fill="#6f7780" />
<circle cx="783.5" cy="158.3" r="0.55" fill="#6f7780" />
<circle cx="786.8" cy="158.3" r="0.55" fill="#6f7780" />
<circle cx="790.0" cy="158.3" r="0.55" fill="#6f7780" />
<circle cx="793.2" cy="158.3" r="0.55" fill="#6f7780" />
<circle cx="796.5" cy="158.3" r="0.55" fill="#6f7780" />
<circle cx="799.8" cy="158.3" r="0.55" fill="#6f7780" />
<circle cx="803.0" cy="158.3" r="0.55" fill="#6f7780" />
<path d="M750 156 l4 -2.5 4 2 4 -3 4 2.5 4 -1.5 4 1.5 4 -1" fill="none" stroke="#c9d2da" stroke-width="0.5"/>
<path d="M791 144.3 l5 -0.6 3 -1.2 4 -1 3 0.8 4 0.9 5 1" fill="none" stroke="#6f8eae" stroke-width="0.8"/>
<rect x="798.0" y="141.3" width="7.0" height="2.2" fill="#a9bdd3" opacity="0.8"/>
<rect x="786.0" y="147.0" width="4.0" height="0.8" fill="#b9c3cd" />
<rect x="798.0" y="147.0" width="4.0" height="0.8" fill="#b9c3cd" />
<polyline points="752.0,134.8 780.0,134.8" fill="none" stroke="#d9ece0" stroke-width="0.7" />
<polyline points="786.0,134.8 812.0,134.8" fill="none" stroke="#d9e4ee" stroke-width="0.7" />
<g fill="none" stroke-width="0.5" stroke="#d1d5da">
<path d="M780 238.4v15.6M787.8 238.4v15.6M776 253.5h14M783 244.7h5M802.2 239v12.6M811.2 239v12.6M802.2 251.6h9M807 239v8M840.6 250v31M846 250v31M772 236.5h80M776 260v24M783 260v24"/>
</g>
<path d="M816.6 252.2 C 822 256, 829 260, 828.6 264.8 C 827 268, 823 270, 822 272.6 C 820 277, 822 280.5, 827 280.5 C 830 280.5, 833 280, 834 279.2" fill="none" stroke="#b4b9c0" stroke-width="0.8"/>
<path d="M831.6 255.8 C 832.5 262, 833.5 269, 834.4 275.6" fill="none" stroke="#b4b9c0" stroke-width="0.8"/>
<polygon points="810.0,251.8 816.5,249.2 818.4,250.4 812.0,252.9" fill="#9c8f2f" />
<polygon points="827.4,254.0 834.0,251.6 835.8,252.9 829.5,255.3" fill="#a39a35" />
<circle cx="822.0" cy="273.0" r="1.2" fill="#5f646b" />
<circle cx="834.4" cy="275.8" r="1.2" fill="#5f646b" />
<circle cx="840.6" cy="254.0" r="0.6" fill="#8f959c" />
<circle cx="840.6" cy="259.0" r="0.6" fill="#8f959c" />
<circle cx="840.6" cy="264.0" r="0.6" fill="#8f959c" />
<circle cx="840.6" cy="269.0" r="0.6" fill="#8f959c" />
<circle cx="840.6" cy="274.0" r="0.6" fill="#8f959c" />
<circle cx="840.6" cy="279.0" r="0.6" fill="#8f959c" />
<rect x="349.6" y="319.6" width="78.2" height="41.0" fill="#fdfdfd" />
<rect x="352.3" y="323.9" width="30.8" height="5.1" fill="#e23b3b" rx="1.2"/>
<rect x="353.1" y="324.4" width="29.0" height="1.4" fill="#ffffff" opacity="0.35" rx="0.7"/>
<rect x="356.3" y="325.7" width="10.0" height="0.9" fill="#ffffff" opacity="0.7"/>
<rect x="374.3" y="325.7" width="5.0" height="0.9" fill="#ffffff" opacity="0.6"/>
<rect x="352.3" y="333.0" width="30.8" height="5.1" fill="#e23b3b" rx="1.2"/>
<rect x="353.1" y="333.5" width="29.0" height="1.4" fill="#ffffff" opacity="0.35" rx="0.7"/>
<rect x="356.3" y="334.8" width="10.0" height="0.9" fill="#ffffff" opacity="0.7"/>
<rect x="374.3" y="334.8" width="5.0" height="0.9" fill="#ffffff" opacity="0.6"/>
<rect x="352.3" y="342.0" width="30.8" height="5.1" fill="#6cc04a" rx="1.2"/>
<rect x="353.1" y="342.5" width="29.0" height="1.4" fill="#ffffff" opacity="0.35" rx="0.7"/>
<rect x="356.3" y="343.8" width="10.0" height="0.9" fill="#ffffff" opacity="0.7"/>
<rect x="374.3" y="343.8" width="5.0" height="0.9" fill="#ffffff" opacity="0.6"/>
<rect x="352.3" y="351.1" width="30.8" height="5.1" fill="#6cc04a" rx="1.2"/>
<rect x="353.1" y="351.6" width="29.0" height="1.4" fill="#ffffff" opacity="0.35" rx="0.7"/>
<rect x="356.3" y="352.9" width="10.0" height="0.9" fill="#ffffff" opacity="0.7"/>
<rect x="374.3" y="352.9" width="5.0" height="0.9" fill="#ffffff" opacity="0.6"/>
<rect x="393.0" y="323.9" width="30.8" height="5.1" fill="#6cc04a" rx="1.2"/>
<rect x="393.8" y="324.4" width="29.0" height="1.4" fill="#ffffff" opacity="0.35" rx="0.7"/>
<rect x="397.0" y="325.7" width="10.0" height="0.9" fill="#ffffff" opacity="0.7"/>
<rect x="415.0" y="325.7" width="5.0" height="0.9" fill="#ffffff" opacity="0.6"/>
<rect x="393.0" y="333.0" width="30.8" height="5.1" fill="#e23b3b" rx="1.2"/>
<rect x="393.8" y="333.5" width="29.0" height="1.4" fill="#ffffff" opacity="0.35" rx="0.7"/>
<rect x="397.0" y="334.8" width="10.0" height="0.9" fill="#ffffff" opacity="0.7"/>
<rect x="415.0" y="334.8" width="5.0" height="0.9" fill="#ffffff" opacity="0.6"/>
<rect x="393.0" y="342.0" width="30.8" height="5.1" fill="#6cc04a" rx="1.2"/>
<rect x="393.8" y="342.5" width="29.0" height="1.4" fill="#ffffff" opacity="0.35" rx="0.7"/>
<rect x="397.0" y="343.8" width="10.0" height="0.9" fill="#ffffff" opacity="0.7"/>
<rect x="415.0" y="343.8" width="5.0" height="0.9" fill="#ffffff" opacity="0.6"/>
<rect x="393.0" y="351.1" width="30.8" height="5.1" fill="#6cc04a" rx="1.2"/>
<rect x="393.8" y="351.6" width="29.0" height="1.4" fill="#ffffff" opacity="0.35" rx="0.7"/>
<rect x="397.0" y="352.9" width="10.0" height="0.9" fill="#ffffff" opacity="0.7"/>
<rect x="415.0" y="352.9" width="5.0" height="0.9" fill="#ffffff" opacity="0.6"/>
<rect x="515.5" y="366.5" width="74.2" height="36.7" fill="#fcfcfd" stroke="#ece4ea" stroke-width="0.5"/>
<rect x="541.3" y="372.6" width="9.5" height="11.5" fill="#dfeccf" />
<ellipse cx="545.0" cy="376.5" rx="2.6" ry="3.2" fill="#f3f6ea" />
<rect x="541.3" y="381.0" width="9.5" height="4.0" fill="#6fae5a" />
<rect x="552.0" y="373.2" width="7.5" height="7.8" fill="#3d3a36" />
<rect x="554.0" y="374.0" width="1.2" height="5.0" fill="#b9c2a8" />
<rect x="556.6" y="374.0" width="1.2" height="5.0" fill="#b9c2a8" />
<rect x="551.5" y="381.0" width="8.5" height="3.4" fill="#4ea65a" />
<rect x="541.3" y="384.5" width="19.7" height="9.2" fill="#4a3f2c" />
<rect x="543.0" y="386.0" width="7.0" height="5.0" fill="#2f2a20" />
<rect x="551.0" y="387.0" width="8.0" height="3.5" fill="#8a7a3a" />
<g fill="none" stroke="#6fb3c6" stroke-width="0.7"><path d="M532.5 372.6v19.7M527 374h11M527.5 377.4h10M527 382.4h11M529 389h7"/></g>
<rect x="527.5" y="379.0" width="10.0" height="1.8" fill="#d5ecf2" />
<rect x="528.5" y="384.5" width="8.0" height="1.8" fill="#d5ecf2" />
<rect x="562.4" y="386.2" width="6.8" height="1.3" fill="#8a4ab8" />
<rect x="562.4" y="388.5" width="6.8" height="1.1" fill="#a56ac8" />
<rect x="573.3" y="396.6" width="8.0" height="1.5" fill="#b48ad0" />
<rect x="576.0" y="380.2" width="5.5" height="0.9" fill="#e9b6cf" />
<polyline points="519.0,397.5 538.0,397.5" fill="none" stroke="#ead9e6" stroke-width="0.6" />
<polyline points="519.0,370.0 538.0,370.0" fill="none" stroke="#e4e7eb" stroke-width="0.6" />
<polyline points="566.0,370.0 584.0,370.0" fill="none" stroke="#e4e7eb" stroke-width="0.6" />
<polyline points="224.1,393.6 241.6,407.3 241.6,420.0" fill="none" stroke="#6f8794" stroke-width="1.0" />
<polyline points="336.3,110.0 352.0,110.0 400.2,187.0" fill="none" stroke="#2b6c88" stroke-width="1.1" stroke-linejoin="round"/>
<polyline points="236.9,170.9 252.7,170.9 308.4,238.0" fill="none" stroke="#2b6c88" stroke-width="1.1" stroke-linejoin="round"/>
<polyline points="155.2,235.0 171.1,235.0 268.0,342.7" fill="none" stroke="#2b6c88" stroke-width="1.1" stroke-linejoin="round"/>
<polyline points="453.8,95.8 476.6,95.8 498.3,264.0" fill="none" stroke="#2b6c88" stroke-width="1.1" stroke-linejoin="round"/>
<polyline points="542.1,73.1 524.4,73.1 516.8,272.0" fill="none" stroke="#2b6c88" stroke-width="1.1" stroke-linejoin="round"/>
<polyline points="646.7,75.0 632.0,75.0 554.0,272.2" fill="none" stroke="#2b6c88" stroke-width="1.1" stroke-linejoin="round"/>
<polyline points="748.6,121.3 733.6,121.3 659.5,288.0" fill="none" stroke="#2b6c88" stroke-width="1.1" stroke-linejoin="round"/>
<polyline points="769.0,222.5 756.9,222.5 710.4,332.1" fill="none" stroke="#2b6c88" stroke-width="1.1" stroke-linejoin="round"/>
<polyline points="340.7,265.0 388.2,285.0 388.2,298.0" fill="none" stroke="#2b6c88" stroke-width="1.1" stroke-linejoin="round"/>
<polyline points="451.0,320.0 499.0,345.0 513.2,359.0" fill="none" stroke="#2b6c88" stroke-width="1.1" stroke-linejoin="round"/>
<circle cx="400.2" cy="187.0" r="4.1" fill="#1c76a8" stroke="#3a8fbd" stroke-width="0.6"/>
<circle cx="308.4" cy="238.0" r="4.1" fill="#1c76a8" stroke="#3a8fbd" stroke-width="0.6"/>
<circle cx="268.0" cy="342.7" r="4.1" fill="#1c76a8" stroke="#3a8fbd" stroke-width="0.6"/>
<circle cx="498.5" cy="264.0" r="4.1" fill="#1c76a8" stroke="#3a8fbd" stroke-width="0.6"/>
<circle cx="516.9" cy="272.2" r="4.1" fill="#1c76a8" stroke="#3a8fbd" stroke-width="0.6"/>
<circle cx="554.0" cy="272.2" r="4.1" fill="#1c76a8" stroke="#3a8fbd" stroke-width="0.6"/>
<circle cx="659.5" cy="288.0" r="4.1" fill="#1c76a8" stroke="#3a8fbd" stroke-width="0.6"/>
<circle cx="710.4" cy="332.1" r="4.1" fill="#1c76a8" stroke="#3a8fbd" stroke-width="0.6"/>
<circle cx="340.5" cy="264.8" r="4.1" fill="#1c76a8" stroke="#3a8fbd" stroke-width="0.6"/>
<circle cx="451.0" cy="320.0" r="4.1" fill="#1c76a8" stroke="#3a8fbd" stroke-width="0.6"/>
<circle cx="224.1" cy="393.6" r="4.1" fill="#1c76a8" stroke="#3a8fbd" stroke-width="0.6"/>
<rect x="250.7" y="99.3" width="85.6" height="20.9" fill="#1e6e9e" />
<text x="293.5" y="114.3" font-size="10.9" font-weight="900" fill="#ffffff" text-anchor="middle">设备状态监控</text>
<rect x="370.5" y="85.4" width="83.3" height="22.0" fill="#1e6e9e" />
<text x="412.1" y="101.0" font-size="10.9" font-weight="900" fill="#ffffff" text-anchor="middle">过程质量控制</text>
<rect x="542.1" y="60.7" width="68.9" height="22.6" fill="#1e6e9e" />
<text x="576.6" y="76.6" font-size="10.9" font-weight="900" fill="#ffffff" text-anchor="middle">生产统计</text>
<rect x="646.7" y="63.8" width="68.1" height="21.4" fill="#1e6e9e" />
<text x="680.8" y="79.1" font-size="10.9" font-weight="900" fill="#ffffff" text-anchor="middle">质量统计</text>
<rect x="748.6" y="110.2" width="68.0" height="20.1" fill="#1e6e9e" />
<text x="782.6" y="124.8" font-size="10.9" font-weight="900" fill="#ffffff" text-anchor="middle">成品检验</text>
<rect x="769.0" y="212.1" width="85.0" height="20.4" fill="#1e6e9e" />
<text x="811.5" y="226.9" font-size="10.9" font-weight="900" fill="#ffffff" text-anchor="middle">产品出货指引</text>
<rect x="147.3" y="160.2" width="89.6" height="21.5" fill="#1e6e9e" />
<text x="192.1" y="175.5" font-size="10.9" font-weight="900" fill="#ffffff" text-anchor="middle">调度与生产计划</text>
<rect x="75.4" y="226.0" width="79.8" height="21.0" fill="#1e6e9e" />
<text x="115.3" y="241.1" font-size="10.9" font-weight="900" fill="#ffffff" text-anchor="middle">来料验收上架</text>
<rect x="348.0" y="298.0" width="80.8" height="21.6" fill="#1e6e9e" />
<text x="388.4" y="313.4" font-size="10.9" font-weight="900" fill="#ffffff" text-anchor="middle">现场异常呼叫</text>
<rect x="513.2" y="344.1" width="78.7" height="21.7" fill="#1e6e9e" />
<text x="552.6" y="359.6" font-size="10.9" font-weight="900" fill="#ffffff" text-anchor="middle">电子作业指导</text>
<rect x="192.3" y="419.9" width="89.9" height="20.3" fill="#1e6e9e" />
<text x="237.2" y="434.6" font-size="10.9" font-weight="900" fill="#ffffff" text-anchor="middle">智能物料配送</text>
<text x="456.6" y="21.5" font-size="19.4" font-weight="900" fill="#1f8fc9" text-anchor="middle" letter-spacing="0.9">数字化车间</text>
</svg>
</body></html>
